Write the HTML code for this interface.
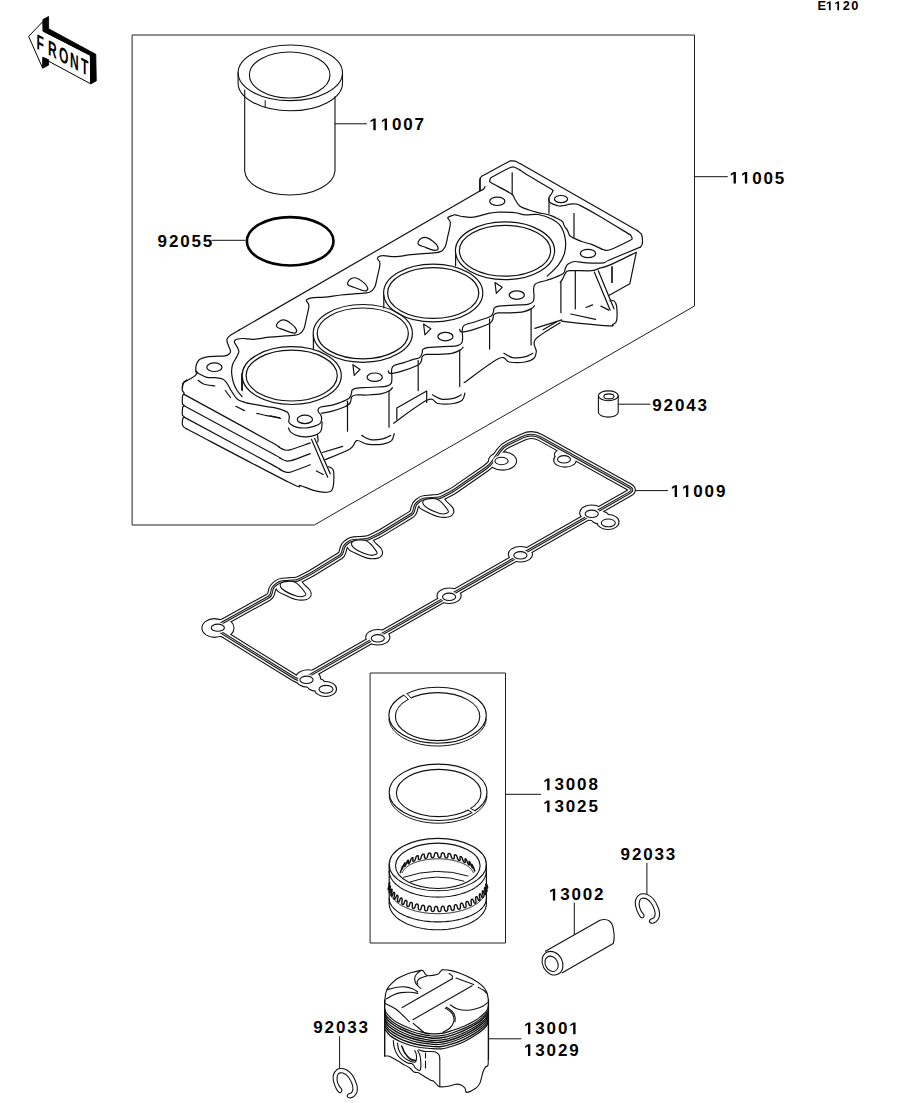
<!DOCTYPE html>
<html><head><meta charset="utf-8"><style>
html,body{margin:0;padding:0;background:#fff;}
svg{display:block;}
text{font-family:"Liberation Sans",sans-serif;font-weight:bold;fill:#000;}
</style></head><body>
<svg width="914" height="1103" viewBox="0 0 914 1103" stroke-linejoin="round" stroke-linecap="round">
<g id="front">
<path d="M43.1,19.4 L48.6,16.4 L48.6,28.7 L95.8,54.3 L96.3,80.9 L90.9,83.8 L90.4,55.3 L43.6,31.2 Z" stroke="#000" stroke-width="0.8" fill="#000" />
<path d="M43.1,57.3 L48.6,59.7 L48.6,65.1 L43.1,68.1 Z" stroke="#000" stroke-width="0.8" fill="#000" />
<path d="M28.9,36.1 L43.1,21.3 L43.1,31.2 L90.4,55.3 L90.6,83.8 L48.6,61.2 L43.1,57.6 L42.6,67.6 Z" stroke="#000" stroke-width="1" fill="none" />
<text transform="translate(36.6,48.6) skewY(28) scale(0.56,1)" font-size="21.5" style="font-family:'Liberation Sans';font-weight:bold">F</text>
<text transform="translate(47.9,54.6) skewY(28) scale(0.56,1)" font-size="21.5" style="font-family:'Liberation Sans';font-weight:bold">R</text>
<text transform="translate(59.0,60.5) skewY(28) scale(0.56,1)" font-size="21.5" style="font-family:'Liberation Sans';font-weight:bold">O</text>
<text transform="translate(70.0,66.4) skewY(28) scale(0.56,1)" font-size="21.5" style="font-family:'Liberation Sans';font-weight:bold">N</text>
<text transform="translate(80.9,72.2) skewY(28) scale(0.56,1)" font-size="21.5" style="font-family:'Liberation Sans';font-weight:bold">T</text>
</g>
<path d="M132.5,35 H694.5 V306 L314.3,525 H132.5 Z" stroke="#222" stroke-width="1" fill="none" />
<ellipse cx="290.3" cy="72.8" rx="52.2" ry="27.8" stroke="#111" stroke-width="1.1" fill="none"/>
<ellipse cx="289.7" cy="75.0" rx="40.3" ry="23.0" stroke="#111" stroke-width="1.1" fill="none"/>
<path d="M238.1,72.8 V83 A52.2,27.8 0 0 0 342.5,83 V72.8" stroke="#111" stroke-width="1.1" fill="none" />
<path d="M244.7,90 V171 A45.2,25.2 0 0 0 335,171 V96.5" stroke="#111" stroke-width="1.1" fill="none" />
<line x1="265.2" y1="100.6" x2="265.2" y2="107" stroke="#111" stroke-width="1"/>
<ellipse cx="290.2" cy="241.3" rx="43.3" ry="24.2" stroke="#000" stroke-width="2.6" fill="none"/>
<ellipse cx="608.3" cy="395.8" rx="9.9" ry="4.9" stroke="#111" stroke-width="1.1" fill="none"/>
<ellipse cx="608.9" cy="396.4" rx="5.0" ry="2.5" stroke="#111" stroke-width="1.1" fill="none"/>
<path d="M598.4,395.8 V412.2 A9.9,4.9 0 0 0 618.2,412.2 V395.8" stroke="#111" stroke-width="1.1" fill="none" />
<path d="M370.5,673 H505.5 V943 H370.5 Z" stroke="#222" stroke-width="1" fill="none" />
<ellipse cx="437.6" cy="715.3" rx="48.7" ry="28.0" stroke="#111" stroke-width="1.1" fill="none"/>
<ellipse cx="437.6" cy="716.6" rx="42.2" ry="24.0" stroke="#111" stroke-width="1.1" fill="none"/>
<path d="M486.24,719.40 L486.05,720.81 L485.74,722.22 L485.31,723.62 L484.75,725.00 L484.07,726.37 L483.28,727.71 L482.36,729.03 L481.33,730.32 L480.19,731.58 L478.94,732.80 L477.58,733.99 L476.12,735.13 L474.56,736.23 L472.91,737.28 L471.16,738.29 L469.33,739.24 L467.42,740.14 L465.43,740.98 L463.37,741.76 L461.24,742.48 L459.06,743.14 L456.81,743.73 L454.52,744.26 L452.19,744.71 L449.81,745.11 L447.41,745.43 L444.98,745.68 L442.53,745.86 L440.07,745.96 L437.60,746.00 L435.13,745.96 L432.67,745.86 L430.22,745.68 L427.79,745.43 L425.39,745.11 L423.01,744.71 L420.68,744.26 L418.39,743.73 L416.14,743.14 L413.96,742.48 L411.83,741.76 L409.77,740.98 L407.78,740.14 L405.87,739.24 L404.04,738.29 L402.29,737.28 L400.64,736.23 L399.08,735.13 L397.62,733.99 L396.26,732.80 L395.01,731.58 L393.87,730.32 L392.84,729.03 L391.92,727.71 L391.13,726.37 L390.45,725.00 L389.89,723.62 L389.46,722.22 L389.15,720.81 L388.96,719.40" stroke="#111" stroke-width="1.0" fill="none" />
<path d="M402.9,694.3 L406.2,692.6 L411.8,698.9 L409.1,700.2 Z" stroke="none" stroke-width="0" fill="#fff" />
<path d="M403.8,695.2 L408.3,699.3" stroke="#111" stroke-width="1.0" fill="none" />
<path d="M407.0,693.5 L411.0,697.9" stroke="#111" stroke-width="1.0" fill="none" />
<ellipse cx="438.1" cy="792.3" rx="48.9" ry="28.2" stroke="#111" stroke-width="1.1" fill="none"/>
<ellipse cx="438.7" cy="793.0" rx="42.3" ry="23.6" stroke="#111" stroke-width="1.1" fill="none"/>
<path d="M486.94,796.41 L486.75,797.83 L486.44,799.25 L486.00,800.66 L485.45,802.05 L484.77,803.43 L483.97,804.78 L483.05,806.11 L482.01,807.41 L480.87,808.67 L479.61,809.91 L478.25,811.10 L476.78,812.25 L475.22,813.36 L473.55,814.42 L471.80,815.43 L469.96,816.39 L468.04,817.29 L466.05,818.14 L463.98,818.93 L461.84,819.65 L459.64,820.32 L457.39,820.91 L455.09,821.44 L452.75,821.91 L450.36,822.30 L447.95,822.62 L445.51,822.87 L443.05,823.06 L440.58,823.16 L438.10,823.20 L435.62,823.16 L433.15,823.06 L430.69,822.87 L428.25,822.62 L425.84,822.30 L423.45,821.91 L421.11,821.44 L418.81,820.91 L416.56,820.32 L414.36,819.65 L412.22,818.93 L410.15,818.14 L408.16,817.29 L406.24,816.39 L404.40,815.43 L402.65,814.42 L400.98,813.36 L399.42,812.25 L397.95,811.10 L396.59,809.91 L395.33,808.67 L394.19,807.41 L393.15,806.11 L392.23,804.78 L391.43,803.43 L390.75,802.05 L390.20,800.66 L389.76,799.25 L389.45,797.83 L389.26,796.41" stroke="#111" stroke-width="1.0" fill="none" />
<path d="M475.9,811.6 L472.9,813.4 L467.3,809.1 L469.7,807.7 Z" stroke="none" stroke-width="0" fill="#fff" />
<path d="M475.0,810.8 L470.6,808.5" stroke="#111" stroke-width="1.0" fill="none" />
<path d="M472.1,812.6 L468.1,810.0" stroke="#111" stroke-width="1.0" fill="none" />
<ellipse cx="437.8" cy="864.6" rx="48.6" ry="26.2" stroke="#111" stroke-width="1.1" fill="none"/>
<ellipse cx="437.8" cy="865.8" rx="42.3" ry="22.7" stroke="#111" stroke-width="1.1" fill="none"/>
<path d="M486.40,870.90 L486.33,872.27 L486.13,873.64 L485.80,875.00 L485.34,876.35 L484.74,877.68 L484.02,879.00 L483.17,880.29 L482.20,881.56 L481.10,882.79 L479.89,884.00 L478.56,885.17 L477.12,886.30 L475.57,887.39 L473.92,888.43 L472.17,889.43 L470.32,890.37 L468.38,891.26 L466.37,892.10 L464.27,892.87 L462.10,893.59 L459.86,894.24 L457.57,894.83 L455.22,895.36 L452.82,895.82 L450.38,896.21 L447.90,896.53 L445.40,896.78 L442.88,896.96 L440.34,897.06 L437.80,897.10 L435.26,897.06 L432.72,896.96 L430.20,896.78 L427.70,896.53 L425.22,896.21 L422.78,895.82 L420.38,895.36 L418.03,894.83 L415.74,894.24 L413.50,893.59 L411.33,892.87 L409.23,892.10 L407.22,891.26 L405.28,890.37 L403.43,889.43 L401.68,888.43 L400.03,887.39 L398.48,886.30 L397.04,885.17 L395.71,884.00 L394.50,882.79 L393.40,881.56 L392.43,880.29 L391.58,879.00 L390.86,877.68 L390.26,876.35 L389.80,875.00 L389.47,873.64 L389.27,872.27 L389.20,870.90" stroke="#111" stroke-width="1.1" fill="none" />
<path d="M400.96,870.85 L400.46,872.24 L400.36,872.49 L400.31,872.59 L400.30,872.59 L400.31,872.53 L400.35,872.39 L400.42,872.19 L400.51,871.92 L400.63,871.57 L400.81,871.08 L401.10,870.23 L401.96,867.76 L402.18,867.17 L402.33,866.75 L402.45,866.45 L402.55,866.21 L402.62,866.05 L402.68,865.95 L402.71,865.92 L402.72,865.97 L402.70,866.14 L402.59,866.55 L401.87,868.82 L401.77,869.23 L401.76,869.40 L401.79,869.45 L401.84,869.42 L401.93,869.33 L402.04,869.17 L402.17,868.94 L402.33,868.64 L402.53,868.23 L402.78,867.64 L403.65,865.18 L403.99,864.34 L404.22,863.86 L404.40,863.51 L404.56,863.25 L404.70,863.06 L404.81,862.94 L404.91,862.88 L404.99,862.90 L405.04,863.01 L405.05,863.28 L404.70,864.68 L404.36,866.08 L404.38,866.34 L404.45,866.46 L404.55,866.48 L404.68,866.43 L404.82,866.31 L405.00,866.13 L405.19,865.88 L405.41,865.54 L405.67,865.07 L406.05,864.24 L406.90,861.79 L407.19,861.21 L407.43,860.82 L407.65,860.53 L407.84,860.32 L408.01,860.18 L408.17,860.10 L408.31,860.10 L408.43,860.17 L408.52,860.36 L408.54,860.79 L408.06,863.08 L408.09,863.52 L408.20,863.71 L408.34,863.79 L408.50,863.79 L408.69,863.72 L408.90,863.58 L409.12,863.38 L409.37,863.10 L409.65,862.73 L409.97,862.16 L410.78,859.73 L411.16,858.92 L411.45,858.47 L411.71,858.15 L411.95,857.92 L412.18,857.76 L412.38,857.66 L412.58,857.64 L412.76,857.69 L412.91,857.83 L413.04,858.12 L412.90,859.56 L412.77,860.99 L412.91,861.29 L413.08,861.43 L413.29,861.49 L413.51,861.47 L413.74,861.39 L414.00,861.24 L414.27,861.02 L414.55,860.72 L414.87,860.28 L415.27,859.49 L416.00,857.08 L416.33,856.53 L416.63,856.18 L416.91,855.93 L417.17,855.75 L417.42,855.65 L417.66,855.61 L417.88,855.64 L418.09,855.75 L418.29,855.98 L418.44,856.45 L418.25,858.78 L418.42,859.25 L418.63,859.49 L418.86,859.60 L419.11,859.64 L419.37,859.61 L419.65,859.52 L419.94,859.36 L420.24,859.12 L420.56,858.79 L420.90,858.26 L421.54,855.87 L421.92,855.10 L422.24,854.70 L422.54,854.42 L422.83,854.23 L423.11,854.11 L423.38,854.06 L423.64,854.08 L423.90,854.18 L424.14,854.36 L424.36,854.70 L424.45,856.18 L424.54,857.66 L424.79,858.00 L425.05,858.19 L425.32,858.29 L425.61,858.32 L425.90,858.28 L426.20,858.18 L426.51,858.01 L426.83,857.75 L427.16,857.36 L427.52,856.62 L428.04,854.25 L428.37,853.76 L428.68,853.45 L428.98,853.25 L429.28,853.12 L429.57,853.06 L429.85,853.07 L430.13,853.15 L430.41,853.31 L430.68,853.59 L430.94,854.11 L431.08,856.49 L431.35,857.01 L431.64,857.29 L431.93,857.46 L432.24,857.55 L432.54,857.57 L432.85,857.53 L433.16,857.41 L433.48,857.23 L433.79,856.94 L434.12,856.47 L434.50,854.13 L434.82,853.41 L435.12,853.05 L435.42,852.83 L435.72,852.69 L436.02,852.63 L436.32,852.63 L436.61,852.70 L436.91,852.84 L437.20,853.08 L437.50,853.47 L437.80,855.00 L438.11,856.53 L438.42,856.92 L438.73,857.17 L439.04,857.32 L439.35,857.40 L439.66,857.42 L439.97,857.37 L440.28,857.25 L440.58,857.04 L440.88,856.71 L441.16,856.02 L441.39,853.70 L441.67,853.26 L441.96,853.00 L442.24,852.85 L442.53,852.78 L442.83,852.77 L443.12,852.83 L443.42,852.96 L443.73,853.18 L444.04,853.51 L444.37,854.08 L444.82,856.51 L445.16,857.09 L445.48,857.42 L445.80,857.64 L446.11,857.79 L446.42,857.86 L446.71,857.87 L447.01,857.81 L447.29,857.68 L447.57,857.44 L447.82,857.02 L447.90,854.73 L448.11,854.07 L448.37,853.76 L448.63,853.59 L448.90,853.51 L449.17,853.49 L449.45,853.55 L449.74,853.67 L450.04,853.87 L450.35,854.16 L450.68,854.60 L451.15,856.18 L451.63,857.76 L451.97,858.21 L452.29,858.50 L452.59,858.71 L452.89,858.84 L453.17,858.90 L453.45,858.91 L453.71,858.84 L453.96,858.68 L454.18,858.40 L454.35,857.76 L454.26,855.49 L454.45,855.10 L454.67,854.90 L454.91,854.80 L455.15,854.77 L455.41,854.82 L455.67,854.93 L455.95,855.11 L456.24,855.37 L456.55,855.75 L456.91,856.37 L457.61,858.86 L457.97,859.48 L458.29,859.86 L458.58,860.13 L458.86,860.32 L459.13,860.44 L459.38,860.50 L459.62,860.49 L459.83,860.40 L460.03,860.22 L460.18,859.85 L459.93,857.60 L460.02,856.99 L460.19,856.73 L460.37,856.60 L460.57,856.56 L460.79,856.60 L461.02,856.70 L461.27,856.87 L461.52,857.11 L461.80,857.44 L462.12,857.93 L462.70,859.56 L463.29,861.18 L463.61,861.67 L463.89,862.01 L464.15,862.26 L464.39,862.44 L464.61,862.55 L464.82,862.59 L465.00,862.56 L465.16,862.45 L465.28,862.21 L465.31,861.62 L464.91,859.39 L464.99,859.04 L465.12,858.88 L465.27,858.82 L465.43,858.83 L465.62,858.92 L465.82,859.07 L466.03,859.29 L466.27,859.60 L466.54,860.02 L466.87,860.68 L467.73,863.20 L468.07,863.86 L468.34,864.28 L468.57,864.59 L468.78,864.82 L468.97,864.98 L469.14,865.07 L469.28,865.10 L469.40,865.05 L469.49,864.90 L469.52,864.56 L468.99,862.35 L468.94,861.77 L468.99,861.55 L469.08,861.46 L469.18,861.46 L469.31,861.52 L469.46,861.66 L469.63,861.86 L469.81,862.13 L470.03,862.50 L470.28,863.02 L470.90,864.68 L471.51,866.34 L471.77,866.86 L471.98,867.23 L472.16,867.51 L472.31,867.71 L472.44,867.85 L472.54,867.93 L472.62,867.93 L472.67,867.85 L472.68,867.64 L472.56,867.07 L471.91,864.87 L471.87,864.55 L471.88,864.41 L471.92,864.38 L471.99,864.42 L472.08,864.53 L472.19,864.71 L472.31,864.96 L472.47,865.28 L472.66,865.73 L472.92,866.41 L473.82,868.96 L474.09,869.64 L474.27,870.09 L474.41,870.42 L474.52,870.67 L474.61,870.85 L474.67,870.96 L474.71,871.01 L474.72,870.98 L474.69,870.85 L474.59,870.53 L473.85,868.34 L473.66,867.78 L473.59,867.58 L473.57,867.51 L473.57,867.52 L473.59,867.60 L473.63,867.75 L473.70,867.97 L473.79,868.26 L473.91,868.65 L474.07,869.18 L474.64,870.85" stroke="#111" stroke-width="1.4" fill="none" />
<path d="M402.24,872.72 L402.33,872.49 L402.42,872.26 L402.51,872.03 L402.62,871.80 L402.73,871.57 L402.85,871.35 L402.97,871.12 L403.11,870.90 L403.25,870.67 L403.39,870.45 L403.54,870.23 L403.70,870.00 L403.87,869.78 L404.04,869.56 L404.22,869.35 L404.41,869.13 L404.61,868.91 L404.81,868.70 L405.01,868.49 L405.23,868.27 L405.45,868.06 L405.67,867.86 L405.91,867.65 L406.14,867.44 L406.39,867.24 L406.64,867.04 L406.90,866.83 L407.16,866.63 L407.43,866.44 L407.71,866.24 L407.99,866.05 L408.28,865.85 L408.58,865.66 L408.88,865.48 L409.18,865.29 L409.49,865.11 L409.81,864.92 L410.13,864.74 L410.46,864.56 L410.80,864.39 L411.14,864.21 L411.48,864.04 L411.83,863.87 L412.18,863.71 L412.54,863.54 L412.91,863.38 L413.28,863.22 L413.66,863.06 L414.04,862.91 L414.42,862.75 L414.81,862.60 L415.20,862.46 L415.60,862.31 L416.00,862.17 L416.41,862.03 L416.82,861.89 L417.24,861.76 L417.66,861.62 L418.08,861.49 L418.51,861.37 L418.94,861.24 L419.38,861.12 L419.82,861.01 L420.26,860.89 L420.71,860.78 L421.15,860.67 L421.61,860.56 L422.06,860.46 L422.52,860.36 L422.99,860.26 L423.45,860.17 L423.92,860.08 L424.39,859.99 L424.86,859.90 L425.34,859.82 L425.82,859.74 L426.30,859.66 L426.78,859.59 L427.27,859.52 L427.76,859.46 L428.25,859.39 L428.74,859.33 L429.23,859.27 L429.73,859.22 L430.22,859.17 L430.72,859.12 L431.22,859.08 L431.72,859.04 L432.22,859.00 L432.73,858.96 L433.23,858.93 L433.74,858.91 L434.24,858.88 L434.75,858.86 L435.26,858.84 L435.77,858.83 L436.27,858.81 L436.78,858.81 L437.29,858.80 L437.80,858.80 L438.31,858.80 L438.82,858.81 L439.33,858.81 L439.83,858.83 L440.34,858.84 L440.85,858.86 L441.36,858.88 L441.86,858.91 L442.37,858.93 L442.87,858.96 L443.38,859.00 L443.88,859.04 L444.38,859.08 L444.88,859.12 L445.38,859.17 L445.87,859.22 L446.37,859.27 L446.86,859.33 L447.35,859.39 L447.84,859.46 L448.33,859.52 L448.82,859.59 L449.30,859.66 L449.78,859.74 L450.26,859.82 L450.74,859.90 L451.21,859.99 L451.68,860.08 L452.15,860.17 L452.61,860.26 L453.08,860.36 L453.54,860.46 L453.99,860.56 L454.45,860.67 L454.89,860.78 L455.34,860.89 L455.78,861.01 L456.22,861.12 L456.66,861.24 L457.09,861.37 L457.52,861.49 L457.94,861.62 L458.36,861.76 L458.78,861.89 L459.19,862.03 L459.60,862.17 L460.00,862.31 L460.40,862.46 L460.79,862.60 L461.18,862.75 L461.56,862.91 L461.94,863.06 L462.32,863.22 L462.69,863.38 L463.06,863.54 L463.42,863.71 L463.77,863.87 L464.12,864.04 L464.46,864.21 L464.80,864.39 L465.14,864.56 L465.47,864.74 L465.79,864.92 L466.11,865.11 L466.42,865.29 L466.72,865.48 L467.02,865.66 L467.32,865.85 L467.61,866.05 L467.89,866.24 L468.17,866.44 L468.44,866.63 L468.70,866.83 L468.96,867.04 L469.21,867.24 L469.46,867.44 L469.69,867.65 L469.93,867.86 L470.15,868.06 L470.37,868.27 L470.59,868.49 L470.79,868.70 L470.99,868.91 L471.19,869.13 L471.38,869.35 L471.56,869.56 L471.73,869.78 L471.90,870.00 L472.06,870.23 L472.21,870.45 L472.35,870.67 L472.49,870.90 L472.63,871.12 L472.75,871.35 L472.87,871.57 L472.98,871.80 L473.09,872.03 L473.18,872.26 L473.27,872.49 L473.36,872.72" stroke="#111" stroke-width="1.0" fill="none" />
<path d="M403.6,877.3 Q436.5,866 468,876" stroke="#111" stroke-width="1" fill="none" />
<path d="M410.2,881.9 Q436.5,872.5 464,881.2" stroke="#111" stroke-width="1" fill="none" />
<path d="M486.80,884.50 L487.39,886.36 L487.54,886.95 L487.63,887.37 L487.67,887.68 L487.68,887.90 L487.66,888.04 L487.61,888.09 L487.52,888.04 L487.38,887.86 L487.14,887.38 L486.19,884.87 L485.96,884.45 L485.82,884.29 L485.73,884.26 L485.66,884.32 L485.63,884.47 L485.62,884.70 L485.64,885.02 L485.70,885.45 L485.82,886.08 L486.63,888.69 L486.91,889.79 L487.00,890.35 L487.03,890.75 L487.03,891.04 L486.99,891.25 L486.92,891.37 L486.82,891.41 L486.68,891.35 L486.50,891.14 L486.18,890.56 L485.22,888.09 L484.97,887.73 L484.80,887.58 L484.67,887.56 L484.57,887.63 L484.49,887.78 L484.44,888.02 L484.42,888.35 L484.44,888.80 L484.53,889.46 L485.32,892.22 L485.49,893.14 L485.52,893.67 L485.51,894.05 L485.45,894.33 L485.37,894.52 L485.25,894.63 L485.11,894.65 L484.92,894.56 L484.69,894.32 L484.29,893.60 L483.36,891.24 L483.09,890.91 L482.89,890.78 L482.72,890.76 L482.58,890.84 L482.47,890.99 L482.38,891.24 L482.33,891.57 L482.30,892.03 L482.36,892.74 L483.09,895.55 L483.17,896.36 L483.15,896.86 L483.08,897.22 L482.98,897.47 L482.85,897.65 L482.69,897.73 L482.50,897.73 L482.28,897.62 L482.00,897.35 L481.49,896.34 L480.65,894.23 L480.36,893.93 L480.13,893.81 L479.93,893.80 L479.76,893.87 L479.61,894.03 L479.49,894.28 L479.39,894.62 L479.33,895.09 L479.35,895.85 L479.98,898.66 L479.99,899.39 L479.92,899.85 L479.80,900.19 L479.65,900.42 L479.48,900.57 L479.28,900.64 L479.05,900.62 L478.79,900.48 L478.47,900.16 L477.61,897.91 L477.13,897.02 L476.83,896.74 L476.57,896.62 L476.35,896.61 L476.14,896.69 L475.96,896.85 L475.80,897.09 L475.67,897.43 L475.57,897.92 L475.56,898.74 L476.07,901.51 L476.01,902.17 L475.89,902.60 L475.72,902.91 L475.54,903.12 L475.32,903.25 L475.09,903.29 L474.82,903.24 L474.53,903.07 L474.18,902.69 L473.31,900.25 L472.88,899.55 L472.57,899.28 L472.29,899.17 L472.04,899.15 L471.80,899.22 L471.59,899.38 L471.40,899.62 L471.23,899.96 L471.09,900.46 L471.06,901.38 L471.43,904.05 L471.31,904.66 L471.14,905.05 L470.93,905.33 L470.71,905.51 L470.46,905.61 L470.19,905.63 L469.90,905.55 L469.58,905.34 L469.21,904.91 L468.38,902.36 L467.98,901.76 L467.65,901.50 L467.36,901.39 L467.08,901.37 L466.83,901.44 L466.58,901.58 L466.36,901.82 L466.16,902.16 L465.99,902.67 L465.93,903.78 L466.15,906.25 L465.97,906.79 L465.75,907.15 L465.51,907.40 L465.26,907.56 L464.98,907.63 L464.69,907.61 L464.37,907.50 L464.04,907.26 L463.65,906.75 L462.89,904.16 L462.51,903.62 L462.18,903.37 L461.87,903.25 L461.58,903.22 L461.30,903.28 L461.03,903.42 L460.78,903.65 L460.55,903.99 L460.34,904.51 L460.42,906.83 L460.32,908.05 L460.10,908.55 L459.84,908.87 L459.57,909.09 L459.29,909.21 L458.99,909.25 L458.67,909.21 L458.35,909.06 L458.00,908.78 L457.61,908.18 L456.94,905.58 L456.58,905.08 L456.24,904.83 L455.93,904.70 L455.62,904.67 L455.33,904.72 L455.04,904.85 L454.77,905.08 L454.51,905.41 L454.27,905.95 L454.26,908.52 L454.06,909.44 L453.80,909.89 L453.51,910.17 L453.22,910.36 L452.91,910.45 L452.60,910.46 L452.27,910.38 L451.94,910.20 L451.59,909.87 L451.20,909.15 L450.65,906.59 L450.30,906.13 L449.97,905.87 L449.65,905.74 L449.33,905.69 L449.03,905.73 L448.73,905.86 L448.43,906.07 L448.15,906.41 L447.88,906.96 L447.75,909.62 L447.49,910.39 L447.19,910.78 L446.89,911.03 L446.57,911.18 L446.25,911.25 L445.93,911.22 L445.60,911.11 L445.26,910.90 L444.92,910.52 L444.55,909.61 L444.12,907.17 L443.79,906.72 L443.46,906.47 L443.14,906.32 L442.83,906.27 L442.51,906.30 L442.20,906.41 L441.90,906.62 L441.59,906.95 L441.29,907.54 L441.03,910.22 L440.72,910.87 L440.41,911.23 L440.08,911.44 L439.76,911.56 L439.43,911.58 L439.11,911.53 L438.78,911.38 L438.45,911.13 L438.12,910.70 L437.80,909.00 L437.48,907.30 L437.17,906.87 L436.85,906.61 L436.54,906.45 L436.23,906.39 L435.91,906.41 L435.60,906.51 L435.28,906.71 L434.95,907.04 L434.62,907.67 L434.24,910.33 L433.90,910.90 L433.57,911.20 L433.24,911.38 L432.91,911.46 L432.58,911.46 L432.26,911.37 L431.94,911.19 L431.63,910.90 L431.33,910.41 L431.13,907.93 L430.86,906.98 L430.57,906.55 L430.27,906.28 L429.96,906.12 L429.66,906.05 L429.34,906.05 L429.03,906.15 L428.70,906.34 L428.37,906.67 L428.01,907.37 L427.50,909.97 L427.15,910.45 L426.81,910.72 L426.47,910.86 L426.15,910.91 L425.83,910.88 L425.52,910.75 L425.22,910.54 L424.93,910.21 L424.67,909.66 L424.60,907.01 L424.37,906.20 L424.10,905.78 L423.82,905.51 L423.54,905.34 L423.24,905.25 L422.93,905.25 L422.62,905.33 L422.30,905.51 L421.95,905.85 L421.55,906.67 L420.95,909.13 L420.59,909.56 L420.25,909.78 L419.92,909.89 L419.61,909.91 L419.31,909.84 L419.02,909.69 L418.74,909.44 L418.48,909.06 L418.26,908.44 L418.34,905.72 L418.14,904.98 L417.90,904.57 L417.65,904.29 L417.38,904.11 L417.10,904.01 L416.80,904.00 L416.50,904.08 L416.18,904.26 L415.83,904.61 L415.36,905.69 L414.71,907.86 L414.35,908.22 L414.02,908.41 L413.71,908.49 L413.41,908.47 L413.13,908.37 L412.87,908.19 L412.62,907.91 L412.40,907.49 L412.23,906.79 L412.45,904.03 L412.29,903.35 L412.08,902.94 L411.85,902.66 L411.60,902.47 L411.34,902.36 L411.07,902.34 L410.78,902.41 L410.46,902.59 L410.11,902.95 L409.37,905.23 L408.90,906.16 L408.55,906.48 L408.24,906.63 L407.95,906.68 L407.68,906.63 L407.42,906.51 L407.19,906.29 L406.98,905.98 L406.80,905.52 L406.70,904.72 L407.04,901.97 L406.92,901.33 L406.74,900.92 L406.54,900.63 L406.33,900.44 L406.09,900.33 L405.84,900.30 L405.56,900.36 L405.26,900.54 L404.91,900.93 L404.06,903.38 L403.63,904.09 L403.31,904.36 L403.01,904.48 L402.75,904.50 L402.51,904.42 L402.29,904.27 L402.09,904.03 L401.92,903.68 L401.80,903.18 L401.78,902.25 L402.22,899.57 L402.13,898.96 L402.00,898.55 L401.83,898.26 L401.64,898.06 L401.43,897.95 L401.20,897.91 L400.95,897.98 L400.67,898.16 L400.32,898.58 L399.40,901.10 L399.01,901.67 L398.71,901.90 L398.44,901.99 L398.21,901.98 L398.01,901.89 L397.82,901.71 L397.67,901.44 L397.55,901.06 L397.47,900.52 L397.58,899.37 L398.07,896.86 L398.02,896.28 L397.92,895.87 L397.79,895.58 L397.64,895.38 L397.46,895.26 L397.26,895.23 L397.03,895.29 L396.77,895.48 L396.43,895.94 L395.46,898.48 L395.11,898.96 L394.84,899.16 L394.62,899.22 L394.42,899.19 L394.25,899.07 L394.12,898.86 L394.01,898.57 L393.93,898.17 L393.92,897.58 L394.46,895.20 L394.68,893.90 L394.67,893.33 L394.61,892.94 L394.51,892.65 L394.39,892.45 L394.25,892.33 L394.08,892.30 L393.88,892.36 L393.64,892.57 L393.30,893.09 L392.32,895.60 L392.01,896.01 L391.79,896.18 L391.60,896.22 L391.45,896.16 L391.33,896.02 L391.23,895.80 L391.17,895.48 L391.15,895.05 L391.19,894.42 L391.92,891.75 L392.10,890.73 L392.12,890.19 L392.10,889.80 L392.05,889.52 L391.97,889.32 L391.86,889.20 L391.73,889.17 L391.56,889.25 L391.35,889.47 L391.00,890.08 L390.04,892.53 L389.78,892.88 L389.60,893.02 L389.46,893.04 L389.35,892.97 L389.27,892.81 L389.23,892.57 L389.22,892.23 L389.25,891.77 L389.36,891.09 L390.19,888.31 L390.38,887.42 L390.44,886.90 L390.46,886.52 L390.45,886.24 L390.40,886.05 L390.34,885.94 L390.24,885.92 L390.11,886.00 L389.92,886.24 L389.55,887.02 L388.66,889.32 L388.45,889.63 L388.32,889.74 L388.23,889.74 L388.17,889.66 L388.14,889.48 L388.14,889.23 L388.18,888.87 L388.26,888.39 L388.44,887.66 L389.35,884.83 L389.55,884.03 L389.66,883.52 L389.71,883.16 L389.74,882.89 L389.74,882.70 L389.70,882.60 L389.65,882.59 L389.55,882.69 L389.40,882.96 L388.80,884.50" stroke="#111" stroke-width="1.4" fill="none" />
<path d="M486.18,889.93 L486.16,890.25 L486.12,890.56 L486.09,890.88 L486.04,891.19 L485.99,891.50 L485.92,891.82 L485.85,892.13 L485.77,892.44 L485.69,892.75 L485.59,893.06 L485.49,893.37 L485.38,893.68 L485.26,893.99 L485.14,894.30 L485.01,894.61 L484.86,894.92 L484.72,895.22 L484.56,895.52 L484.40,895.83 L484.22,896.13 L484.04,896.43 L483.86,896.73 L483.66,897.03 L483.46,897.33 L483.25,897.62 L483.03,897.92 L482.81,898.21 L482.57,898.50 L482.33,898.79 L482.09,899.08 L481.83,899.37 L481.57,899.65 L481.30,899.94 L481.03,900.22 L480.74,900.50 L480.45,900.78 L480.16,901.05 L479.85,901.33 L479.54,901.60 L479.22,901.87 L478.90,902.14 L478.57,902.41 L478.23,902.67 L477.88,902.93 L477.53,903.19 L477.17,903.45 L476.81,903.70 L476.44,903.96 L476.06,904.21 L475.68,904.45 L475.29,904.70 L474.89,904.94 L474.49,905.18 L474.08,905.42 L473.67,905.65 L473.25,905.88 L472.82,906.11 L472.39,906.34 L471.95,906.56 L471.51,906.78 L471.06,907.00 L470.60,907.21 L470.14,907.43 L469.68,907.63 L469.21,907.84 L468.73,908.04 L468.25,908.24 L467.77,908.44 L467.28,908.63 L466.78,908.82 L466.28,909.01 L465.78,909.19 L465.27,909.37 L464.75,909.55 L464.24,909.72 L463.71,909.89 L463.19,910.06 L462.65,910.22 L462.12,910.38 L461.58,910.54 L461.04,910.69 L460.49,910.84 L459.94,910.99 L459.38,911.13 L458.83,911.27 L458.26,911.40 L457.70,911.53 L457.13,911.66 L456.56,911.78 L455.99,911.90 L455.41,912.02 L454.83,912.13 L454.25,912.24 L453.66,912.35 L453.07,912.45 L452.48,912.55 L451.89,912.64 L451.29,912.73 L450.69,912.81 L450.09,912.90 L449.49,912.97 L448.89,913.05 L448.28,913.12 L447.67,913.18 L447.06,913.25 L446.45,913.31 L445.84,913.36 L445.23,913.41 L444.61,913.46 L444.00,913.50 L443.38,913.54 L442.76,913.57 L442.14,913.60 L441.53,913.63 L440.91,913.65 L440.28,913.67 L439.66,913.68 L439.04,913.69 L438.42,913.70 L437.80,913.70 L437.18,913.70 L436.56,913.69 L435.94,913.68 L435.32,913.67 L434.69,913.65 L434.07,913.63 L433.46,913.60 L432.84,913.57 L432.22,913.54 L431.60,913.50 L430.99,913.46 L430.37,913.41 L429.76,913.36 L429.15,913.31 L428.54,913.25 L427.93,913.18 L427.32,913.12 L426.71,913.05 L426.11,912.97 L425.51,912.90 L424.91,912.81 L424.31,912.73 L423.71,912.64 L423.12,912.55 L422.53,912.45 L421.94,912.35 L421.35,912.24 L420.77,912.13 L420.19,912.02 L419.61,911.90 L419.04,911.78 L418.47,911.66 L417.90,911.53 L417.34,911.40 L416.77,911.27 L416.22,911.13 L415.66,910.99 L415.11,910.84 L414.56,910.69 L414.02,910.54 L413.48,910.38 L412.95,910.22 L412.41,910.06 L411.89,909.89 L411.36,909.72 L410.85,909.55 L410.33,909.37 L409.82,909.19 L409.32,909.01 L408.82,908.82 L408.32,908.63 L407.83,908.44 L407.35,908.24 L406.87,908.04 L406.39,907.84 L405.92,907.63 L405.46,907.43 L405.00,907.21 L404.54,907.00 L404.09,906.78 L403.65,906.56 L403.21,906.34 L402.78,906.11 L402.35,905.88 L401.93,905.65 L401.52,905.42 L401.11,905.18 L400.71,904.94 L400.31,904.70 L399.92,904.45 L399.54,904.21 L399.16,903.96 L398.79,903.70 L398.43,903.45 L398.07,903.19 L397.72,902.93 L397.37,902.67 L397.03,902.41 L396.70,902.14 L396.38,901.87 L396.06,901.60 L395.75,901.33 L395.44,901.05 L395.15,900.78 L394.86,900.50 L394.57,900.22 L394.30,899.94 L394.03,899.65 L393.77,899.37 L393.51,899.08 L393.27,898.79 L393.03,898.50 L392.79,898.21 L392.57,897.92 L392.35,897.62 L392.14,897.33 L391.94,897.03 L391.74,896.73 L391.56,896.43 L391.38,896.13 L391.20,895.83 L391.04,895.52 L390.88,895.22 L390.74,894.92 L390.59,894.61 L390.46,894.30 L390.34,893.99 L390.22,893.68 L390.11,893.37 L390.01,893.06 L389.91,892.75 L389.83,892.44 L389.75,892.13 L389.68,891.82 L389.61,891.50 L389.56,891.19 L389.51,890.88 L389.48,890.56 L389.44,890.25 L389.42,889.93" stroke="#111" stroke-width="1.0" fill="none" />
<path d="M486.40,898.30 L486.33,899.54 L486.13,900.77 L485.80,901.99 L485.34,903.21 L484.74,904.41 L484.02,905.59 L483.17,906.76 L482.20,907.90 L481.10,909.01 L479.89,910.10 L478.56,911.15 L477.12,912.17 L475.57,913.15 L473.92,914.09 L472.17,914.99 L470.32,915.84 L468.38,916.64 L466.37,917.39 L464.27,918.09 L462.10,918.74 L459.86,919.33 L457.57,919.86 L455.22,920.33 L452.82,920.74 L450.38,921.10 L447.90,921.38 L445.40,921.61 L442.88,921.77 L440.34,921.87 L437.80,921.90 L435.26,921.87 L432.72,921.77 L430.20,921.61 L427.70,921.38 L425.22,921.10 L422.78,920.74 L420.38,920.33 L418.03,919.86 L415.74,919.33 L413.50,918.74 L411.33,918.09 L409.23,917.39 L407.22,916.64 L405.28,915.84 L403.43,914.99 L401.68,914.09 L400.03,913.15 L398.48,912.17 L397.04,911.15 L395.71,910.10 L394.50,909.01 L393.40,907.90 L392.43,906.76 L391.58,905.59 L390.86,904.41 L390.26,903.21 L389.80,901.99 L389.47,900.77 L389.27,899.54 L389.20,898.30" stroke="#111" stroke-width="1.1" fill="none" />
<path d="M486.40,903.50 L486.33,904.88 L486.13,906.25 L485.80,907.61 L485.34,908.97 L484.74,910.31 L484.02,911.63 L483.17,912.93 L482.20,914.20 L481.10,915.44 L479.89,916.65 L478.56,917.82 L477.12,918.96 L475.57,920.05 L473.92,921.10 L472.17,922.10 L470.32,923.04 L468.38,923.94 L466.37,924.78 L464.27,925.56 L462.10,926.28 L459.86,926.93 L457.57,927.53 L455.22,928.05 L452.82,928.51 L450.38,928.90 L447.90,929.23 L445.40,929.48 L442.88,929.66 L440.34,929.76 L437.80,929.80 L435.26,929.76 L432.72,929.66 L430.20,929.48 L427.70,929.23 L425.22,928.90 L422.78,928.51 L420.38,928.05 L418.03,927.53 L415.74,926.93 L413.50,926.28 L411.33,925.56 L409.23,924.78 L407.22,923.94 L405.28,923.04 L403.43,922.10 L401.68,921.10 L400.03,920.05 L398.48,918.96 L397.04,917.82 L395.71,916.65 L394.50,915.44 L393.40,914.20 L392.43,912.93 L391.58,911.63 L390.86,910.31 L390.26,908.97 L389.80,907.61 L389.47,906.25 L389.27,904.88 L389.20,903.50" stroke="#111" stroke-width="1.1" fill="none" />
<line x1="389.2" y1="864.6" x2="389.2" y2="903.5" stroke="#111" stroke-width="1.2"/>
<line x1="486.4" y1="864.6" x2="486.4" y2="903.5" stroke="#111" stroke-width="1.2"/>
<ellipse cx="552.5" cy="963.2" rx="9.9" ry="12.3" stroke="#111" stroke-width="1.1" fill="none" transform="rotate(-28 552.5 963.2)"/>
<ellipse cx="551.6" cy="963.8" rx="6.2" ry="8.0" stroke="#111" stroke-width="1.1" fill="none" transform="rotate(-28 551.6 963.8)"/>
<path d="M545.4,951.2 L600,920.2 Q612,917 613.5,930 Q615,938 613.2,943.5 L562.3,972.8" stroke="#111" stroke-width="1.1" fill="none" />
<path d="M642.4,917.9 C641.7,918.0 640.7,917.3 639.8,916.1 C638.9,914.9 637.8,912.8 637.1,910.9 C636.4,909.0 635.6,906.7 635.4,904.8 C635.2,902.9 635.2,901.1 635.8,899.5 C636.4,897.9 637.6,896.1 638.9,895.1 C640.1,894.1 641.7,893.8 643.3,893.8 C644.9,893.8 646.8,894.1 648.5,895.1 C650.2,896.1 652.3,897.6 653.8,899.5 C655.3,901.4 656.8,904.3 657.7,906.5 C658.7,908.7 659.3,910.7 659.5,912.6 C659.7,914.5 659.5,916.4 659.0,917.9 C658.5,919.4 657.4,920.5 656.4,921.4 C655.4,922.3 653.9,923.0 652.9,923.2 C651.9,923.4 650.9,923.1 650.3,922.7 C649.7,922.3 649.3,921.6 649.4,921.0 C649.5,920.4 650.0,919.7 650.7,919.2 C651.4,918.7 653.1,918.7 653.8,917.9 C654.5,917.1 655.0,915.9 655.1,914.4 C655.2,912.9 654.9,911.0 654.2,909.1 C653.5,907.2 652.3,904.7 651.1,903.0 C649.9,901.3 648.2,899.9 646.8,899.1 C645.3,898.3 643.6,898.0 642.4,898.2 C641.2,898.4 640.3,899.2 639.8,900.4 C639.3,901.6 639.1,903.9 639.3,905.6 C639.5,907.4 640.3,909.3 641.1,910.9 C641.9,912.5 643.9,914.1 644.1,915.3 C644.3,916.5 643.1,917.8 642.4,917.9 Z" stroke="#111" stroke-width="1.1" fill="none" />
<path d="M340.2,1092.6 C339.5,1092.7 338.5,1092.0 337.6,1090.8 C336.7,1089.6 335.6,1087.5 334.9,1085.6 C334.2,1083.7 333.4,1081.4 333.2,1079.5 C333.0,1077.6 333.0,1075.8 333.6,1074.2 C334.2,1072.6 335.5,1070.8 336.7,1069.8 C338.0,1068.9 339.5,1068.5 341.1,1068.5 C342.7,1068.5 344.6,1068.9 346.3,1069.8 C348.1,1070.8 350.1,1072.3 351.6,1074.2 C353.1,1076.1 354.6,1079.0 355.5,1081.2 C356.5,1083.4 357.1,1085.4 357.3,1087.3 C357.5,1089.2 357.3,1091.1 356.8,1092.6 C356.3,1094.1 355.2,1095.2 354.2,1096.1 C353.2,1097.0 351.7,1097.7 350.7,1097.9 C349.7,1098.1 348.7,1097.8 348.1,1097.4 C347.5,1097.0 347.1,1096.3 347.2,1095.7 C347.3,1095.1 347.8,1094.4 348.5,1093.9 C349.2,1093.4 350.9,1093.4 351.6,1092.6 C352.3,1091.8 352.8,1090.6 352.9,1089.1 C353.0,1087.6 352.7,1085.7 352.0,1083.8 C351.3,1081.9 350.1,1079.4 348.9,1077.7 C347.7,1076.0 346.1,1074.6 344.6,1073.8 C343.2,1073.0 341.4,1072.7 340.2,1072.9 C339.0,1073.1 338.1,1073.9 337.6,1075.1 C337.1,1076.3 336.9,1078.6 337.1,1080.3 C337.3,1082.1 338.1,1084.0 338.9,1085.6 C339.7,1087.2 341.7,1088.8 341.9,1090.0 C342.1,1091.2 340.9,1092.5 340.2,1092.6 Z" stroke="#111" stroke-width="1.1" fill="none" />
<line x1="335" y1="123.8" x2="366.5" y2="123.8" stroke="#111" stroke-width="1"/>
<line x1="212" y1="240.3" x2="245" y2="240.3" stroke="#111" stroke-width="1"/>
<line x1="694.5" y1="176.7" x2="727.4" y2="176.7" stroke="#111" stroke-width="1"/>
<line x1="618.5" y1="404.2" x2="650" y2="404.2" stroke="#111" stroke-width="1"/>
<line x1="636" y1="490.6" x2="667.5" y2="490.6" stroke="#111" stroke-width="1"/>
<line x1="505.5" y1="794.3" x2="540.7" y2="794.3" stroke="#111" stroke-width="1"/>
<line x1="574.3" y1="903" x2="574.3" y2="934.5" stroke="#111" stroke-width="1"/>
<line x1="646.9" y1="863.2" x2="646.9" y2="893.8" stroke="#111" stroke-width="1"/>
<line x1="339.6" y1="1036.7" x2="339.6" y2="1068.2" stroke="#111" stroke-width="1"/>
<line x1="489.5" y1="1038.8" x2="521" y2="1038.8" stroke="#111" stroke-width="1"/>
<path d="M478,0 L478,1170 L140,959 L140,1180 L493,1409 L759,1409 L759,0 Z" transform="translate(369.40,130.2) scale(0.00830,-0.00830)" fill="#000"/>
<path d="M478,0 L478,1170 L140,959 L140,1180 L493,1409 L759,1409 L759,0 Z" transform="translate(380.70,130.2) scale(0.00830,-0.00830)" fill="#000"/>
<text x="392.01" y="130.2" font-size="17">0</text>
<text x="403.31" y="130.2" font-size="17">0</text>
<text x="414.62" y="130.2" font-size="17">7</text>
<text x="157.60" y="246.9" font-size="17">9</text>
<text x="168.90" y="246.9" font-size="17">2</text>
<text x="180.21" y="246.9" font-size="17">0</text>
<text x="191.51" y="246.9" font-size="17">5</text>
<text x="202.82" y="246.9" font-size="17">5</text>
<path d="M478,0 L478,1170 L140,959 L140,1180 L493,1409 L759,1409 L759,0 Z" transform="translate(729.60,183.6) scale(0.00830,-0.00830)" fill="#000"/>
<path d="M478,0 L478,1170 L140,959 L140,1180 L493,1409 L759,1409 L759,0 Z" transform="translate(740.90,183.6) scale(0.00830,-0.00830)" fill="#000"/>
<text x="752.21" y="183.6" font-size="17">0</text>
<text x="763.51" y="183.6" font-size="17">0</text>
<text x="774.82" y="183.6" font-size="17">5</text>
<text x="652.30" y="410.6" font-size="17">9</text>
<text x="663.60" y="410.6" font-size="17">2</text>
<text x="674.91" y="410.6" font-size="17">0</text>
<text x="686.21" y="410.6" font-size="17">4</text>
<text x="697.52" y="410.6" font-size="17">3</text>
<path d="M478,0 L478,1170 L140,959 L140,1180 L493,1409 L759,1409 L759,0 Z" transform="translate(670.70,496.9) scale(0.00830,-0.00830)" fill="#000"/>
<path d="M478,0 L478,1170 L140,959 L140,1180 L493,1409 L759,1409 L759,0 Z" transform="translate(682.00,496.9) scale(0.00830,-0.00830)" fill="#000"/>
<text x="693.31" y="496.9" font-size="17">0</text>
<text x="704.61" y="496.9" font-size="17">0</text>
<text x="715.92" y="496.9" font-size="17">9</text>
<path d="M478,0 L478,1170 L140,959 L140,1180 L493,1409 L759,1409 L759,0 Z" transform="translate(543.20,790.3) scale(0.00830,-0.00830)" fill="#000"/>
<text x="554.50" y="790.3" font-size="17">3</text>
<text x="565.81" y="790.3" font-size="17">0</text>
<text x="577.11" y="790.3" font-size="17">0</text>
<text x="588.42" y="790.3" font-size="17">8</text>
<path d="M478,0 L478,1170 L140,959 L140,1180 L493,1409 L759,1409 L759,0 Z" transform="translate(543.20,812.2) scale(0.00830,-0.00830)" fill="#000"/>
<text x="554.50" y="812.2" font-size="17">3</text>
<text x="565.81" y="812.2" font-size="17">0</text>
<text x="577.11" y="812.2" font-size="17">2</text>
<text x="588.42" y="812.2" font-size="17">5</text>
<path d="M478,0 L478,1170 L140,959 L140,1180 L493,1409 L759,1409 L759,0 Z" transform="translate(548.90,900.4) scale(0.00830,-0.00830)" fill="#000"/>
<text x="560.20" y="900.4" font-size="17">3</text>
<text x="571.51" y="900.4" font-size="17">0</text>
<text x="582.81" y="900.4" font-size="17">0</text>
<text x="594.12" y="900.4" font-size="17">2</text>
<text x="620.60" y="859.7" font-size="17">9</text>
<text x="631.90" y="859.7" font-size="17">2</text>
<text x="643.21" y="859.7" font-size="17">0</text>
<text x="654.51" y="859.7" font-size="17">3</text>
<text x="665.82" y="859.7" font-size="17">3</text>
<text x="313.30" y="1033.2" font-size="17">9</text>
<text x="324.60" y="1033.2" font-size="17">2</text>
<text x="335.91" y="1033.2" font-size="17">0</text>
<text x="347.21" y="1033.2" font-size="17">3</text>
<text x="358.52" y="1033.2" font-size="17">3</text>
<path d="M478,0 L478,1170 L140,959 L140,1180 L493,1409 L759,1409 L759,0 Z" transform="translate(524.00,1034.3) scale(0.00830,-0.00830)" fill="#000"/>
<text x="535.30" y="1034.3" font-size="17">3</text>
<text x="546.61" y="1034.3" font-size="17">0</text>
<text x="557.91" y="1034.3" font-size="17">0</text>
<path d="M478,0 L478,1170 L140,959 L140,1180 L493,1409 L759,1409 L759,0 Z" transform="translate(569.22,1034.3) scale(0.00830,-0.00830)" fill="#000"/>
<path d="M478,0 L478,1170 L140,959 L140,1180 L493,1409 L759,1409 L759,0 Z" transform="translate(524.00,1056.0) scale(0.00830,-0.00830)" fill="#000"/>
<text x="535.30" y="1056.0" font-size="17">3</text>
<text x="546.61" y="1056.0" font-size="17">0</text>
<text x="557.91" y="1056.0" font-size="17">2</text>
<text x="569.22" y="1056.0" font-size="17">9</text>
<text x="817.50" y="10.2" font-size="12.8">E</text>
<path d="M478,0 L478,1170 L140,959 L140,1180 L493,1409 L759,1409 L759,0 Z" transform="translate(825.92,10.2) scale(0.00625,-0.00625)" fill="#000"/>
<path d="M478,0 L478,1170 L140,959 L140,1180 L493,1409 L759,1409 L759,0 Z" transform="translate(834.34,10.2) scale(0.00625,-0.00625)" fill="#000"/>
<text x="842.76" y="10.2" font-size="12.8">2</text>
<text x="851.17" y="10.2" font-size="12.8">0</text>
<g id="gasket" stroke-linejoin="round">
<path d="M218.75,624.79 L268.41,597.21 Q270.60,596.00 271.19,593.57 L272.11,589.73 Q272.70,587.30 274.63,585.72 L276.98,583.80 Q279.30,581.90 282.29,581.71 L293.81,580.99 Q296.80,580.80 299.48,579.45 L307.22,575.55 Q309.90,574.20 312.46,572.63 L339.77,555.91 Q341.90,554.60 342.49,552.17 L343.41,548.33 Q344.00,545.90 345.93,544.32 L348.28,542.40 Q350.60,540.50 353.59,540.31 L365.11,539.59 Q368.10,539.40 370.78,538.05 L378.52,534.15 Q381.20,532.80 383.76,531.23 L411.07,514.51 Q413.20,513.20 413.79,510.77 L414.71,506.93 Q415.30,504.50 417.23,502.92 L419.58,501.00 Q421.90,499.10 424.89,498.91 L436.41,498.19 Q439.40,498.00 442.08,496.65 L449.82,492.75 Q452.50,491.40 454.97,489.69 L485.89,468.25 Q490.00,465.40 492.84,461.29 L500.16,450.71 Q503.00,446.60 507.51,444.45 L522.97,437.10 Q532.00,432.80 540.74,437.66 L629.36,486.98 Q634.60,489.90 629.39,492.87 L304.81,678.13 Q299.60,681.10 294.50,677.94 L218.60,630.86 Q213.50,627.70 218.75,624.79 Z" fill="none" stroke="#111" stroke-width="7.90"/>
<path d="M278.0,581.5 C280.2,579.7 286.5,578.8 290.0,578.5 C293.5,578.2 296.7,578.4 299.0,579.5 C301.3,580.6 302.2,583.2 304.0,585.0 C305.8,586.8 308.4,588.8 309.5,590.5 C310.6,592.2 311.0,594.1 310.5,595.5 C310.0,596.9 308.9,598.4 306.5,599.0 C304.1,599.6 299.8,599.8 296.0,599.0 C292.2,598.2 287.2,595.6 284.0,594.0 C280.8,592.4 278.0,591.6 277.0,589.5 C276.0,587.4 275.8,583.3 278.0,581.5 Z" fill="#111" stroke="#111" stroke-width="2.2"/>
<path d="M349.3,540.1 C351.5,538.3 357.8,537.4 361.3,537.1 C364.8,536.8 368.0,537.0 370.3,538.1 C372.6,539.2 373.6,541.8 375.3,543.6 C377.1,545.4 379.7,547.4 380.8,549.1 C381.9,550.9 382.3,552.7 381.8,554.1 C381.3,555.5 380.2,557.0 377.8,557.6 C375.4,558.2 371.1,558.4 367.3,557.6 C363.6,556.8 358.5,554.2 355.3,552.6 C352.1,551.0 349.3,550.2 348.3,548.1 C347.3,546.0 347.1,541.9 349.3,540.1 Z" fill="#111" stroke="#111" stroke-width="2.2"/>
<path d="M420.6,498.7 C422.8,496.9 429.1,496.0 432.6,495.7 C436.1,495.4 439.3,495.6 441.6,496.7 C443.9,497.8 444.9,500.4 446.6,502.2 C448.4,504.0 451.0,505.9 452.1,507.7 C453.2,509.4 453.6,511.3 453.1,512.7 C452.6,514.1 451.5,515.6 449.1,516.2 C446.7,516.8 442.4,517.0 438.6,516.2 C434.9,515.4 429.8,512.8 426.6,511.2 C423.4,509.6 420.6,508.8 419.6,506.7 C418.6,504.6 418.4,500.5 420.6,498.7 Z" fill="#111" stroke="#111" stroke-width="2.2"/>
<ellipse cx="502.5" cy="461.0" rx="13.50" ry="8.60" transform="rotate(0 502.5 461.0)" fill="#111" stroke="#111" stroke-width="2.2"/>
<ellipse cx="565.0" cy="460.0" rx="10.80" ry="6.60" transform="rotate(0 565.0 460.0)" fill="#111" stroke="#111" stroke-width="2.2"/>
<ellipse cx="561.5" cy="454.5" rx="6.50" ry="4.50" transform="rotate(0 561.5 454.5)" fill="#111" stroke="#111" stroke-width="2.2"/>
<ellipse cx="377.8" cy="637.3" rx="11.50" ry="7.20" transform="rotate(0 377.8 637.3)" fill="#111" stroke="#111" stroke-width="2.2"/>
<ellipse cx="449.1" cy="595.8" rx="11.50" ry="7.20" transform="rotate(0 449.1 595.8)" fill="#111" stroke="#111" stroke-width="2.2"/>
<ellipse cx="520.4" cy="554.3" rx="11.50" ry="7.20" transform="rotate(0 520.4 554.3)" fill="#111" stroke="#111" stroke-width="2.2"/>
<ellipse cx="591.7" cy="512.8" rx="11.50" ry="7.20" transform="rotate(0 591.7 512.8)" fill="#111" stroke="#111" stroke-width="2.2"/>
<ellipse cx="308.0" cy="678.5" rx="12.00" ry="8.20" transform="rotate(0 308.0 678.5)" fill="#111" stroke="#111" stroke-width="2.2"/>
<ellipse cx="325.5" cy="689.0" rx="10.50" ry="6.90" transform="rotate(0 325.5 689.0)" fill="#111" stroke="#111" stroke-width="2.2"/>
<ellipse cx="316.0" cy="684.5" rx="9.00" ry="6.00" transform="rotate(0 316.0 684.5)" fill="#111" stroke="#111" stroke-width="2.2"/>
<ellipse cx="608.0" cy="522.0" rx="10.50" ry="6.90" transform="rotate(0 608.0 522.0)" fill="#111" stroke="#111" stroke-width="2.2"/>
<ellipse cx="600.0" cy="517.5" rx="9.00" ry="6.00" transform="rotate(0 600.0 517.5)" fill="#111" stroke="#111" stroke-width="2.2"/>
<ellipse cx="214.5" cy="628.0" rx="12.00" ry="8.80" transform="rotate(0 214.5 628.0)" fill="#111" stroke="#111" stroke-width="2.2"/>
<ellipse cx="224.0" cy="628.0" rx="9.50" ry="8.50" transform="rotate(0 224.0 628.0)" fill="#111" stroke="#111" stroke-width="2.2"/>
<path d="M218.75,624.79 L268.41,597.21 Q270.60,596.00 271.19,593.57 L272.11,589.73 Q272.70,587.30 274.63,585.72 L276.98,583.80 Q279.30,581.90 282.29,581.71 L293.81,580.99 Q296.80,580.80 299.48,579.45 L307.22,575.55 Q309.90,574.20 312.46,572.63 L339.77,555.91 Q341.90,554.60 342.49,552.17 L343.41,548.33 Q344.00,545.90 345.93,544.32 L348.28,542.40 Q350.60,540.50 353.59,540.31 L365.11,539.59 Q368.10,539.40 370.78,538.05 L378.52,534.15 Q381.20,532.80 383.76,531.23 L411.07,514.51 Q413.20,513.20 413.79,510.77 L414.71,506.93 Q415.30,504.50 417.23,502.92 L419.58,501.00 Q421.90,499.10 424.89,498.91 L436.41,498.19 Q439.40,498.00 442.08,496.65 L449.82,492.75 Q452.50,491.40 454.97,489.69 L485.89,468.25 Q490.00,465.40 492.84,461.29 L500.16,450.71 Q503.00,446.60 507.51,444.45 L522.97,437.10 Q532.00,432.80 540.74,437.66 L629.36,486.98 Q634.60,489.90 629.39,492.87 L304.81,678.13 Q299.60,681.10 294.50,677.94 L218.60,630.86 Q213.50,627.70 218.75,624.79 Z" fill="none" stroke="#fff" stroke-width="5.70"/>
<path d="M278.0,581.5 C280.2,579.7 286.5,578.8 290.0,578.5 C293.5,578.2 296.7,578.4 299.0,579.5 C301.3,580.6 302.2,583.2 304.0,585.0 C305.8,586.8 308.4,588.8 309.5,590.5 C310.6,592.2 311.0,594.1 310.5,595.5 C310.0,596.9 308.9,598.4 306.5,599.0 C304.1,599.6 299.8,599.8 296.0,599.0 C292.2,598.2 287.2,595.6 284.0,594.0 C280.8,592.4 278.0,591.6 277.0,589.5 C276.0,587.4 275.8,583.3 278.0,581.5 Z" fill="#fff"/>
<path d="M349.3,540.1 C351.5,538.3 357.8,537.4 361.3,537.1 C364.8,536.8 368.0,537.0 370.3,538.1 C372.6,539.2 373.6,541.8 375.3,543.6 C377.1,545.4 379.7,547.4 380.8,549.1 C381.9,550.9 382.3,552.7 381.8,554.1 C381.3,555.5 380.2,557.0 377.8,557.6 C375.4,558.2 371.1,558.4 367.3,557.6 C363.6,556.8 358.5,554.2 355.3,552.6 C352.1,551.0 349.3,550.2 348.3,548.1 C347.3,546.0 347.1,541.9 349.3,540.1 Z" fill="#fff"/>
<path d="M420.6,498.7 C422.8,496.9 429.1,496.0 432.6,495.7 C436.1,495.4 439.3,495.6 441.6,496.7 C443.9,497.8 444.9,500.4 446.6,502.2 C448.4,504.0 451.0,505.9 452.1,507.7 C453.2,509.4 453.6,511.3 453.1,512.7 C452.6,514.1 451.5,515.6 449.1,516.2 C446.7,516.8 442.4,517.0 438.6,516.2 C434.9,515.4 429.8,512.8 426.6,511.2 C423.4,509.6 420.6,508.8 419.6,506.7 C418.6,504.6 418.4,500.5 420.6,498.7 Z" fill="#fff"/>
<ellipse cx="502.5" cy="461.0" rx="13.50" ry="8.60" transform="rotate(0 502.5 461.0)" fill="#fff"/>
<ellipse cx="565.0" cy="460.0" rx="10.80" ry="6.60" transform="rotate(0 565.0 460.0)" fill="#fff"/>
<ellipse cx="561.5" cy="454.5" rx="6.50" ry="4.50" transform="rotate(0 561.5 454.5)" fill="#fff"/>
<ellipse cx="377.8" cy="637.3" rx="11.50" ry="7.20" transform="rotate(0 377.8 637.3)" fill="#fff"/>
<ellipse cx="449.1" cy="595.8" rx="11.50" ry="7.20" transform="rotate(0 449.1 595.8)" fill="#fff"/>
<ellipse cx="520.4" cy="554.3" rx="11.50" ry="7.20" transform="rotate(0 520.4 554.3)" fill="#fff"/>
<ellipse cx="591.7" cy="512.8" rx="11.50" ry="7.20" transform="rotate(0 591.7 512.8)" fill="#fff"/>
<ellipse cx="308.0" cy="678.5" rx="12.00" ry="8.20" transform="rotate(0 308.0 678.5)" fill="#fff"/>
<ellipse cx="325.5" cy="689.0" rx="10.50" ry="6.90" transform="rotate(0 325.5 689.0)" fill="#fff"/>
<ellipse cx="316.0" cy="684.5" rx="9.00" ry="6.00" transform="rotate(0 316.0 684.5)" fill="#fff"/>
<ellipse cx="608.0" cy="522.0" rx="10.50" ry="6.90" transform="rotate(0 608.0 522.0)" fill="#fff"/>
<ellipse cx="600.0" cy="517.5" rx="9.00" ry="6.00" transform="rotate(0 600.0 517.5)" fill="#fff"/>
<ellipse cx="214.5" cy="628.0" rx="12.00" ry="8.80" transform="rotate(0 214.5 628.0)" fill="#fff"/>
<ellipse cx="224.0" cy="628.0" rx="9.50" ry="8.50" transform="rotate(0 224.0 628.0)" fill="#fff"/>
<path d="M218.75,624.79 L268.41,597.21 Q270.60,596.00 271.19,593.57 L272.11,589.73 Q272.70,587.30 274.63,585.72 L276.98,583.80 Q279.30,581.90 282.29,581.71 L293.81,580.99 Q296.80,580.80 299.48,579.45 L307.22,575.55 Q309.90,574.20 312.46,572.63 L339.77,555.91 Q341.90,554.60 342.49,552.17 L343.41,548.33 Q344.00,545.90 345.93,544.32 L348.28,542.40 Q350.60,540.50 353.59,540.31 L365.11,539.59 Q368.10,539.40 370.78,538.05 L378.52,534.15 Q381.20,532.80 383.76,531.23 L411.07,514.51 Q413.20,513.20 413.79,510.77 L414.71,506.93 Q415.30,504.50 417.23,502.92 L419.58,501.00 Q421.90,499.10 424.89,498.91 L436.41,498.19 Q439.40,498.00 442.08,496.65 L449.82,492.75 Q452.50,491.40 454.97,489.69 L485.89,468.25 Q490.00,465.40 492.84,461.29 L500.16,450.71 Q503.00,446.60 507.51,444.45 L522.97,437.10 Q532.00,432.80 540.74,437.66 L629.36,486.98 Q634.60,489.90 629.39,492.87 L304.81,678.13 Q299.60,681.10 294.50,677.94 L218.60,630.86 Q213.50,627.70 218.75,624.79 Z" fill="none" stroke="#111" stroke-width="2.8"/>
<path d="M218.75,624.79 L268.41,597.21 Q270.60,596.00 271.19,593.57 L272.11,589.73 Q272.70,587.30 274.63,585.72 L276.98,583.80 Q279.30,581.90 282.29,581.71 L293.81,580.99 Q296.80,580.80 299.48,579.45 L307.22,575.55 Q309.90,574.20 312.46,572.63 L339.77,555.91 Q341.90,554.60 342.49,552.17 L343.41,548.33 Q344.00,545.90 345.93,544.32 L348.28,542.40 Q350.60,540.50 353.59,540.31 L365.11,539.59 Q368.10,539.40 370.78,538.05 L378.52,534.15 Q381.20,532.80 383.76,531.23 L411.07,514.51 Q413.20,513.20 413.79,510.77 L414.71,506.93 Q415.30,504.50 417.23,502.92 L419.58,501.00 Q421.90,499.10 424.89,498.91 L436.41,498.19 Q439.40,498.00 442.08,496.65 L449.82,492.75 Q452.50,491.40 454.97,489.69 L485.89,468.25 Q490.00,465.40 492.84,461.29 L500.16,450.71 Q503.00,446.60 507.51,444.45 L522.97,437.10 Q532.00,432.80 540.74,437.66 L629.36,486.98 Q634.60,489.90 629.39,492.87 L304.81,678.13 Q299.60,681.10 294.50,677.94 L218.60,630.86 Q213.50,627.70 218.75,624.79 Z" fill="none" stroke="#fff" stroke-width="0.7"/>
<ellipse cx="217.8" cy="627.7" rx="8.6" ry="5.4" fill="#fff"/>
<ellipse cx="217.8" cy="627.7" rx="6.6" ry="3.6" fill="none" stroke="#111" stroke-width="1.1"/>
<ellipse cx="306.5" cy="679.8" rx="8.6" ry="5.5" fill="#fff"/>
<ellipse cx="306.5" cy="679.8" rx="6.6" ry="3.7" fill="none" stroke="#111" stroke-width="1.1"/>
<ellipse cx="377.8" cy="638.3" rx="8.6" ry="5.5" fill="#fff"/>
<ellipse cx="377.8" cy="638.3" rx="6.6" ry="3.7" fill="none" stroke="#111" stroke-width="1.1"/>
<ellipse cx="449.1" cy="596.8" rx="8.6" ry="5.5" fill="#fff"/>
<ellipse cx="449.1" cy="596.8" rx="6.6" ry="3.7" fill="none" stroke="#111" stroke-width="1.1"/>
<ellipse cx="520.4" cy="555.3" rx="8.6" ry="5.5" fill="#fff"/>
<ellipse cx="520.4" cy="555.3" rx="6.6" ry="3.7" fill="none" stroke="#111" stroke-width="1.1"/>
<ellipse cx="591.7" cy="513.8" rx="8.6" ry="5.5" fill="#fff"/>
<ellipse cx="591.7" cy="513.8" rx="6.6" ry="3.7" fill="none" stroke="#111" stroke-width="1.1"/>
<ellipse cx="326.0" cy="689.3" rx="9.0" ry="5.7" fill="#fff"/>
<ellipse cx="326.0" cy="689.3" rx="7.0" ry="3.9" fill="none" stroke="#111" stroke-width="1.1"/>
<ellipse cx="608.3" cy="522.9" rx="9.0" ry="5.7" fill="#fff"/>
<ellipse cx="608.3" cy="522.9" rx="7.0" ry="3.9" fill="none" stroke="#111" stroke-width="1.1"/>
<ellipse cx="501.5" cy="461.0" rx="8.6" ry="5.5" fill="#fff"/>
<ellipse cx="501.5" cy="461.0" rx="6.6" ry="3.7" fill="none" stroke="#111" stroke-width="1.1"/>
<ellipse cx="564.0" cy="459.3" rx="8.5" ry="5.5" fill="#fff"/>
<ellipse cx="564.0" cy="459.3" rx="6.5" ry="3.7" fill="none" stroke="#111" stroke-width="1.1"/>
<path d="M281.4,582.9 C283.4,581.7 290.6,580.4 294.5,582.0 C298.4,583.6 303.4,590.2 305.0,592.5 C306.6,594.8 305.6,595.4 304.1,596.0 C302.7,596.6 299.9,597.2 296.3,596.0 C292.7,594.8 284.8,591.2 282.3,589.0 C279.8,586.8 279.4,584.1 281.4,582.9 Z" fill="#fff" stroke="#111" stroke-width="1.1"/>
<path d="M352.7,541.5 C354.7,540.3 361.9,539.0 365.8,540.6 C369.7,542.2 374.7,548.8 376.3,551.1 C377.9,553.4 376.9,554.0 375.4,554.6 C374.0,555.2 371.2,555.8 367.6,554.6 C364.0,553.4 356.1,549.8 353.6,547.6 C351.1,545.4 350.7,542.7 352.7,541.5 Z" fill="#fff" stroke="#111" stroke-width="1.1"/>
<path d="M424.0,500.1 C426.0,498.9 433.2,497.6 437.1,499.2 C441.0,500.8 446.0,507.4 447.6,509.7 C449.2,512.0 448.2,512.6 446.7,513.2 C445.3,513.8 442.5,514.4 438.9,513.2 C435.3,512.0 427.4,508.4 424.9,506.2 C422.4,504.0 422.0,501.3 424.0,500.1 Z" fill="#fff" stroke="#111" stroke-width="1.1"/>
</g>
<ellipse cx="291.7" cy="375.6" rx="49.6" ry="28.9" stroke="#111" stroke-width="1.2" fill="none"/>
<ellipse cx="291.7" cy="375.6" rx="45.6" ry="25.4" stroke="#111" stroke-width="1.2" fill="none"/>
<line x1="242.29999999999998" y1="377.6" x2="242.29999999999998" y2="390.6" stroke="#111" stroke-width="1.2"/>
<ellipse cx="362.8" cy="333.4" rx="49.6" ry="28.9" stroke="#111" stroke-width="1.2" fill="none"/>
<ellipse cx="362.8" cy="333.4" rx="45.6" ry="25.4" stroke="#111" stroke-width="1.2" fill="none"/>
<line x1="313.40000000000003" y1="335.4" x2="313.40000000000003" y2="348.4" stroke="#111" stroke-width="1.2"/>
<ellipse cx="433.2" cy="293.0" rx="49.6" ry="28.9" stroke="#111" stroke-width="1.2" fill="none"/>
<ellipse cx="433.2" cy="293.0" rx="45.6" ry="25.4" stroke="#111" stroke-width="1.2" fill="none"/>
<line x1="383.8" y1="295.0" x2="383.8" y2="308.0" stroke="#111" stroke-width="1.2"/>
<ellipse cx="505.0" cy="250.8" rx="49.6" ry="28.9" stroke="#111" stroke-width="1.2" fill="none"/>
<ellipse cx="505.0" cy="250.8" rx="45.6" ry="25.4" stroke="#111" stroke-width="1.2" fill="none"/>
<line x1="455.6" y1="252.8" x2="455.6" y2="265.8" stroke="#111" stroke-width="1.2"/>
<path d="M276.6,324.8 C277.0,323.7 278.5,321.7 279.9,320.9 C281.3,320.1 283.1,319.7 285.1,320.2 C287.1,320.7 289.8,322.6 291.7,324.1 C293.6,325.6 295.7,328.0 296.3,329.4 C296.9,330.8 296.4,332.2 295.6,332.7 C294.8,333.3 293.9,333.3 291.7,332.7 C289.5,332.2 284.9,330.3 282.5,329.4 C280.1,328.5 278.3,328.2 277.3,327.4 C276.3,326.6 276.2,325.9 276.6,324.8 Z" stroke="#111" stroke-width="1.2" fill="none" />
<path d="M347.7,282.6 C348.1,281.5 349.6,279.5 351.0,278.7 C352.4,277.9 354.2,277.5 356.2,278.0 C358.2,278.5 360.9,280.4 362.8,281.9 C364.7,283.4 366.8,285.8 367.4,287.2 C368.1,288.6 367.5,289.9 366.7,290.5 C365.9,291.1 365.0,291.1 362.8,290.5 C360.6,289.9 356.0,288.1 353.6,287.2 C351.2,286.3 349.4,286.0 348.4,285.2 C347.4,284.4 347.3,283.7 347.7,282.6 Z" stroke="#111" stroke-width="1.2" fill="none" />
<path d="M418.1,242.2 C418.5,241.1 420.0,239.1 421.4,238.3 C422.8,237.5 424.6,237.1 426.6,237.6 C428.6,238.1 431.3,240.0 433.2,241.5 C435.1,243.0 437.2,245.4 437.8,246.8 C438.4,248.2 437.9,249.6 437.1,250.1 C436.3,250.6 435.4,250.6 433.2,250.1 C431.0,249.6 426.4,247.7 424.0,246.8 C421.6,245.9 419.8,245.6 418.8,244.8 C417.8,244.0 417.7,243.3 418.1,242.2 Z" stroke="#111" stroke-width="1.2" fill="none" />
<ellipse cx="304.9" cy="419.4" rx="7.6" ry="4.2" stroke="#111" stroke-width="1.2" fill="none"/>
<ellipse cx="374.7" cy="377.2" rx="7.6" ry="4.2" stroke="#111" stroke-width="1.2" fill="none"/>
<ellipse cx="445.4" cy="336.6" rx="7.6" ry="4.2" stroke="#111" stroke-width="1.2" fill="none"/>
<ellipse cx="516.8" cy="295.1" rx="7.6" ry="4.2" stroke="#111" stroke-width="1.2" fill="none"/>
<ellipse cx="214.4" cy="367.2" rx="7.6" ry="4.3" stroke="#111" stroke-width="1.2" fill="none"/>
<ellipse cx="588.0" cy="253.5" rx="7.6" ry="4.2" stroke="#111" stroke-width="1.2" fill="none"/>
<ellipse cx="497.3" cy="201.3" rx="7.6" ry="4.2" stroke="#111" stroke-width="1.2" fill="none"/>
<ellipse cx="561.0" cy="199.1" rx="6.6" ry="3.6" stroke="#111" stroke-width="1.2" fill="none"/>
<path d="M239.3,330.0 L479.8,191.1" stroke="#111" stroke-width="1.2" fill="none" />
<path d="M239.3,330.0 C237.8,330.9 232.5,333.9 230.5,335.3 C228.5,336.7 227.9,337.5 227.3,338.5 C226.7,339.5 226.8,340.0 227.0,341.4 C227.2,342.8 228.2,345.0 228.8,346.6 C229.4,348.2 230.4,349.8 230.5,351.0 C230.6,352.2 230.5,352.8 229.6,353.6 C228.7,354.4 227.8,355.4 225.3,355.8 C222.8,356.2 218.0,356.1 214.8,356.3 C211.6,356.5 208.5,356.6 206.0,357.1 C203.5,357.6 201.3,358.4 199.9,359.3 C198.5,360.2 198.0,361.1 197.3,362.4 C196.6,363.6 196.1,365.4 195.9,366.8 C195.7,368.2 195.9,370.4 195.9,371.1" stroke="#111" stroke-width="1.2" fill="none" />
<path d="M195.9,371.1 C195.9,371.8 197.3,373.5 195.8,375.1 C194.3,376.7 188.9,379.4 186.8,380.8 C184.7,382.2 184.0,382.2 183.3,383.4 C182.6,384.6 182.6,387.2 182.4,388.0" stroke="#111" stroke-width="1.2" fill="none" />
<path d="M195.9,371.1 C196.4,371.6 197.2,372.8 199.0,373.8 C200.8,374.8 204.3,376.7 206.9,377.3 C209.5,377.9 212.2,377.4 214.8,377.7 C217.4,378.0 220.6,378.1 222.6,379.0 C224.6,379.9 225.7,381.6 227.0,383.4 C228.3,385.1 229.6,388.0 230.5,389.5 C231.4,391.0 231.1,390.7 232.3,392.3 C233.5,393.9 235.2,397.6 237.5,399.3 C239.8,401.1 241.6,401.6 246.3,402.8 C251.0,404.0 260.9,405.5 265.5,406.3 C270.1,407.1 271.4,407.1 274.0,407.6 C276.6,408.2 279.1,408.8 281.4,409.6 C283.6,410.4 286.2,411.1 287.5,412.3 C288.8,413.5 289.1,415.0 289.3,416.6 C289.5,418.2 288.5,420.6 288.8,421.9 C289.1,423.2 289.8,423.6 291.0,424.5 C292.2,425.4 294.0,426.5 296.3,427.1 C298.6,427.7 302.1,428.1 305.0,428.0 C307.9,427.9 311.3,427.0 313.8,426.3 C316.3,425.6 318.6,424.8 319.9,423.6 C321.2,422.4 321.5,420.8 321.6,419.3 C321.8,417.9 321.3,416.1 320.8,414.9 C320.3,413.7 319.1,413.2 318.6,412.3 C318.2,411.4 317.7,410.5 318.1,409.6 C318.5,408.7 318.6,407.7 320.8,407.0 C323.0,406.3 328.1,406.0 331.3,405.3 C334.5,404.6 337.0,403.8 340.0,402.6 C343.0,401.4 347.2,399.8 349.1,398.2 C351.0,396.6 351.0,394.6 351.5,393.2 C352.0,391.8 351.3,390.8 352.2,390.0 C353.1,389.2 354.3,388.6 356.7,388.2 C359.1,387.8 363.2,387.7 366.7,387.5 C370.2,387.3 374.4,387.2 377.7,387.0 C381.0,386.8 384.4,386.8 386.7,386.2 C388.9,385.6 390.3,384.9 391.2,383.4 C392.1,381.9 391.8,379.2 391.9,377.2 C391.9,375.2 391.4,372.9 391.5,371.2 C391.6,369.4 391.7,367.9 392.7,366.7 C393.7,365.5 395.7,364.9 397.7,364.2 C399.7,363.5 402.2,363.2 404.7,362.4 C407.2,361.6 410.2,360.4 412.7,359.6 C415.2,358.8 418.2,358.8 419.8,357.6 C421.4,356.4 421.7,354.0 422.2,352.6 C422.7,351.2 422.0,350.2 422.9,349.4 C423.8,348.6 425.0,348.0 427.4,347.6 C429.8,347.2 433.9,347.1 437.4,346.9 C440.9,346.7 445.1,346.6 448.4,346.4 C451.7,346.2 455.1,346.2 457.4,345.6 C459.6,345.0 461.0,344.3 461.9,342.8 C462.8,341.3 462.5,338.6 462.6,336.6 C462.6,334.6 462.1,332.4 462.2,330.6 C462.3,328.9 462.4,327.3 463.4,326.1 C464.4,324.9 466.4,324.3 468.4,323.6 C470.4,322.9 472.9,322.6 475.4,321.8 C477.9,321.0 480.8,319.9 483.4,319.0 C486.0,318.1 489.5,317.4 491.2,316.1 C492.9,314.8 493.1,312.5 493.6,311.1 C494.1,309.7 493.4,308.7 494.3,307.9 C495.2,307.1 496.4,306.5 498.8,306.1 C501.2,305.7 505.3,305.6 508.8,305.4 C512.3,305.2 516.5,305.1 519.8,304.9 C523.1,304.7 526.5,304.7 528.8,304.1 C531.0,303.5 532.4,302.8 533.3,301.3 C534.2,299.8 534.0,297.1 534.0,295.1 C534.0,293.1 533.5,290.9 533.6,289.1 C533.7,287.4 533.8,285.8 534.8,284.6 C535.8,283.4 537.8,282.8 539.8,282.1 C541.8,281.4 544.3,281.1 546.8,280.3 C549.3,279.5 552.0,278.7 554.8,277.5 C557.6,276.3 561.7,274.9 563.5,273.3 C565.3,271.7 564.6,269.6 565.4,268.1 C566.2,266.6 566.6,265.2 568.1,264.1 C569.6,263.0 571.5,261.7 574.6,261.5 C577.7,261.3 581.7,262.6 586.5,262.8 C591.3,263.0 599.8,263.2 603.5,262.8 C607.2,262.4 602.7,262.8 608.8,260.2 C614.9,257.6 635.0,249.3 640.3,247.1" stroke="#111" stroke-width="1.2" fill="none" />
<path d="M388.3,370.8 C388.6,371.2 387.9,373.4 390.3,373.4 C392.7,373.4 398.2,372.1 402.7,370.8 C407.2,369.5 414.1,367.0 417.2,365.5 C420.3,364.0 420.2,363.1 421.1,361.6 C422.0,360.1 421.5,357.5 422.4,356.3 C423.3,355.1 423.8,354.7 426.4,354.4 C429.0,354.1 433.8,354.6 438.2,354.4 C442.6,354.2 448.9,353.9 452.6,353.1 C456.3,352.3 458.8,350.8 460.5,349.8 C462.2,348.8 462.7,347.6 463.1,347.1" stroke="#111" stroke-width="1.2" fill="none" />
<path d="M459.7,329.3 C460.0,329.7 459.3,331.9 461.7,331.9 C464.1,331.9 469.6,330.6 474.1,329.3 C478.6,328.0 485.5,325.5 488.6,324.0 C491.7,322.5 491.6,321.6 492.5,320.1 C493.4,318.6 492.9,316.0 493.8,314.8 C494.7,313.6 495.2,313.2 497.8,312.9 C500.4,312.6 505.2,313.1 509.6,312.9 C514.0,312.7 520.3,312.4 524.0,311.6 C527.7,310.8 530.1,309.3 531.9,308.3 C533.6,307.3 534.1,306.1 534.5,305.6" stroke="#111" stroke-width="1.2" fill="none" />
<path d="M346.5,406.1 C347.1,405.4 349.5,403.7 350.4,402.2 C351.3,400.7 350.8,398.1 351.7,396.9 C352.6,395.7 353.1,395.3 355.7,395.0 C358.3,394.7 363.1,395.2 367.5,395.0 C371.9,394.8 378.2,394.5 381.9,393.7 C385.6,392.9 388.1,391.4 389.8,390.4 C391.6,389.4 392.0,388.1 392.4,387.7" stroke="#111" stroke-width="1.2" fill="none" />
<path d="M288.4,428.0 C288.8,428.7 289.4,431.1 291.0,432.4 C292.6,433.7 295.4,435.2 298.0,435.9 C300.6,436.6 304.0,436.9 306.8,436.8 C309.6,436.7 312.4,436.1 314.6,435.4 C316.8,434.7 318.7,433.5 319.9,432.4 C321.1,431.3 321.2,430.6 321.6,428.9 C322.0,427.1 322.0,423.1 322.1,421.9" stroke="#111" stroke-width="1.2" fill="none" />
<path d="M321.6,413.1 C323.2,412.8 327.5,412.4 331.3,411.4 C335.1,410.4 341.3,408.3 344.4,407.0 C347.5,405.7 349.1,404.1 350.0,403.5" stroke="#111" stroke-width="1.2" fill="none" />
<path d="M560.2,282.5 C560.6,281.9 561.9,280.1 562.8,278.6 C563.7,277.1 564.3,274.6 565.4,273.3 C566.5,272.0 565.0,271.1 569.4,270.7 C573.8,270.3 586.7,271.1 591.7,270.7 C596.7,270.3 596.8,269.0 599.6,268.1 C602.5,267.2 602.7,268.0 608.8,265.4 C614.9,262.8 631.7,254.5 636.3,252.3" stroke="#111" stroke-width="1.2" fill="none" />
<path d="M352.9,364.7 L360.1,369.4 L354.2,375.4 Z" stroke="#111" stroke-width="1.2" fill="none" />
<path d="M423.6,324.1 L430.8,328.8 L424.9,334.8 Z" stroke="#111" stroke-width="1.2" fill="none" />
<path d="M495.0,282.6 L502.2,287.3 L496.3,293.3 Z" stroke="#111" stroke-width="1.2" fill="none" />
<line x1="347.5" y1="401.2" x2="347.5" y2="431.2" stroke="#111" stroke-width="1.2"/>
<line x1="389.0" y1="391.2" x2="389.0" y2="427.2" stroke="#111" stroke-width="1.2"/>
<path d="M361.7,435.4 C363.2,436.1 367.1,439.1 370.6,439.7 C374.1,440.3 379.4,439.6 382.8,438.9 C386.2,438.2 389.4,436.0 390.7,435.4" stroke="#111" stroke-width="1.2" fill="none" />
<line x1="418.2" y1="360.6" x2="418.2" y2="390.6" stroke="#111" stroke-width="1.2"/>
<line x1="459.7" y1="350.6" x2="459.7" y2="386.6" stroke="#111" stroke-width="1.2"/>
<path d="M432.4,394.8 C433.9,395.5 437.8,398.5 441.3,399.1 C444.8,399.7 450.1,399.0 453.5,398.3 C456.9,397.6 460.1,395.4 461.4,394.8" stroke="#111" stroke-width="1.2" fill="none" />
<line x1="489.59999999999997" y1="319.1" x2="489.59999999999997" y2="349.1" stroke="#111" stroke-width="1.2"/>
<line x1="531.0999999999999" y1="309.1" x2="531.0999999999999" y2="345.1" stroke="#111" stroke-width="1.2"/>
<path d="M503.8,353.3 C505.3,354.0 509.2,357.0 512.7,357.6 C516.2,358.2 521.5,357.5 524.9,356.8 C528.2,356.1 531.5,353.9 532.8,353.3" stroke="#111" stroke-width="1.2" fill="none" />
<path d="M324.3,460.0 C328.6,458.2 344.6,452.2 350.0,449.0 C355.4,445.8 353.9,441.4 356.7,440.6 C359.5,439.8 362.7,443.5 367.1,444.1 C371.4,444.7 378.7,444.7 382.8,444.1 C386.9,443.5 389.7,442.3 391.6,440.6 C393.5,438.8 393.8,434.8 394.2,433.6" stroke="#111" stroke-width="1.2" fill="none" />
<path d="M393.5,423.2 C399.1,419.3 420.0,403.3 427.4,400.0 C434.8,396.7 433.4,402.9 437.8,403.5 C442.1,404.1 449.4,404.1 453.5,403.5 C457.6,402.9 460.4,401.8 462.3,400.0 C464.2,398.2 464.5,394.2 464.9,393.0" stroke="#111" stroke-width="1.2" fill="none" />
<path d="M464.2,382.6 C470.0,378.6 491.3,361.9 498.8,358.5 C506.3,355.1 504.8,361.4 509.2,362.0 C513.5,362.6 520.8,362.6 524.9,362.0 C529.0,361.4 531.8,360.2 533.7,358.5 C535.6,356.8 536.0,354.7 536.3,351.5 C536.6,348.3 531.4,344.1 535.4,339.3 C539.4,334.5 555.9,325.5 560.0,322.7" stroke="#111" stroke-width="1.2" fill="none" />
<line x1="560.9" y1="282.5" x2="560.9" y2="312.7" stroke="#111" stroke-width="1.2"/>
<line x1="575.3" y1="270.7" x2="575.3" y2="308.8" stroke="#111" stroke-width="1.2"/>
<line x1="612" y1="266.8" x2="612" y2="282.5" stroke="#111" stroke-width="1.2"/>
<path d="M396.8,419.5 L396.8,408.1 L426.7,391.0 L426.7,402.4" stroke="#111" stroke-width="1.2" fill="none" />
<path d="M534.8,328.4 L561.8,319.9" stroke="#111" stroke-width="1.2" fill="none" />
<path d="M242.0,396.5 C241.1,395.4 238.2,392.3 236.8,390.0 C235.4,387.7 234.2,385.1 233.4,382.5 C232.6,379.9 232.1,376.9 231.8,374.6 C231.5,372.3 231.6,370.4 231.8,368.5 C232.0,366.6 232.3,365.2 233.1,363.3 C233.9,361.4 235.6,359.0 236.6,357.1 C237.6,355.2 238.7,353.5 238.8,351.9 C239.0,350.3 238.2,349.1 237.5,347.5 C236.8,345.9 234.8,343.6 234.5,342.3 C234.2,341.0 234.5,340.1 236.0,339.5 C237.5,338.9 240.3,338.5 243.3,338.5 C246.3,338.5 249.4,339.5 253.8,339.3 C258.2,339.1 264.2,337.8 269.5,337.2 C274.8,336.6 280.5,336.3 285.3,335.9 C290.1,335.4 295.3,335.6 298.4,334.5 C301.5,333.4 302.4,331.9 303.7,329.3 C305.0,326.7 305.4,322.8 306.3,318.8 C307.2,314.9 308.9,308.7 308.9,305.6 C308.9,302.5 305.9,301.7 306.3,300.4 C306.8,299.1 308.5,298.4 311.6,297.8 C314.7,297.2 320.0,297.6 324.8,297.1 C329.6,296.6 335.3,295.6 340.6,295.0 C345.9,294.4 351.6,294.1 356.4,293.7 C361.2,293.2 366.4,293.4 369.5,292.3 C372.6,291.2 373.5,289.7 374.8,287.1 C376.1,284.5 376.5,280.5 377.4,276.6 C378.3,272.6 380.0,266.5 380.0,263.4 C380.0,260.3 377.0,259.5 377.4,258.2 C377.9,256.9 379.7,255.8 382.7,255.6 C385.7,255.3 390.5,256.9 395.2,256.7 C399.9,256.5 405.7,255.2 411.0,254.6 C416.3,254.0 422.0,253.8 426.8,253.3 C431.6,252.9 436.8,253.0 439.9,251.9 C443.0,250.8 443.9,249.3 445.2,246.7 C446.5,244.1 446.9,240.1 447.8,236.2 C448.7,232.2 450.4,226.1 450.4,223.0 C450.4,219.9 447.4,219.1 447.8,217.8 C448.2,216.5 451.8,215.7 453.1,215.2 C454.3,214.7 453.8,214.6 455.3,214.8 C456.8,215.0 459.7,216.1 462.3,216.5 C464.9,216.9 468.4,217.5 471.0,217.4 C473.6,217.3 475.1,216.9 478.0,216.2 C480.9,215.5 485.0,214.1 488.5,213.4 C492.0,212.7 494.6,212.2 499.0,212.1 C503.4,212.0 510.4,212.2 514.8,212.7 C519.2,213.1 521.4,214.5 525.3,214.8 C529.2,215.1 533.7,213.8 538.1,214.5 C542.5,215.2 547.9,217.0 551.7,219.0 C555.5,221.0 558.5,222.8 560.8,226.3 C563.1,229.8 564.8,235.4 565.4,239.9 C566.0,244.4 565.6,249.3 564.4,253.5 C563.2,257.7 561.0,261.5 558.1,265.3 C555.2,269.1 549.0,274.4 547.2,276.2" stroke="#111" stroke-width="1.2" fill="none" />
<path d="M479.8,191.1 C479.8,189.2 479.5,182.4 479.8,180.0 C480.1,177.6 480.5,177.5 481.5,176.5 C482.5,175.5 481.6,176.4 486.0,174.0 C490.4,171.6 503.8,164.2 508.0,162.0 C512.2,159.8 510.1,161.0 511.3,160.9 C512.5,160.8 513.5,160.8 515.0,161.2 C516.5,161.6 519.2,163.2 520.0,163.6" stroke="#111" stroke-width="1.2" fill="none" />
<path d="M520.0,163.6 L637.2,230.5" stroke="#111" stroke-width="1.2" fill="none" />
<path d="M637.2,230.5 C637.9,231.1 640.4,232.7 641.2,233.9 C642.1,235.2 642.1,236.3 642.3,238.0 C642.5,239.7 642.6,242.5 642.3,244.0 C642.0,245.5 640.6,246.6 640.3,247.1" stroke="#111" stroke-width="1.2" fill="none" />
<path d="M480.2,190.5 C480.8,190.3 482.7,189.9 483.5,189.2 C484.3,188.5 484.8,186.9 485.0,186.5" stroke="#111" stroke-width="1.2" fill="none" />
<path d="M489.7,181.5 C489.8,181.0 489.8,179.4 490.3,178.6 C490.9,177.8 489.6,178.3 493.0,176.5 C496.4,174.7 506.8,169.0 510.4,167.5 C514.0,166.0 513.2,167.1 514.8,167.5 C516.4,167.9 519.1,169.6 520.0,170.0" stroke="#111" stroke-width="1.2" fill="none" />
<path d="M520.0,170.0 C521.7,171.1 524.9,173.4 530.0,176.5 C535.1,179.6 546.9,186.3 550.7,188.8 C554.5,191.3 552.6,190.5 552.6,191.5 C552.6,192.5 551.3,193.8 550.7,194.9 C550.1,196.0 549.0,196.8 548.8,198.0 C548.6,199.2 548.8,200.8 549.5,201.8 C550.2,202.8 551.4,203.4 553.0,204.1 C554.6,204.8 557.1,205.8 559.1,206.0 C561.1,206.2 563.4,205.6 565.2,205.3 C567.0,205.0 568.0,204.3 569.8,204.1 C571.6,203.9 574.2,203.8 576.0,204.0 C577.8,204.2 576.5,203.5 580.5,205.6 C584.5,207.7 591.6,211.5 600.0,216.4 C608.4,221.3 625.5,232.0 630.6,235.1" stroke="#111" stroke-width="1.2" fill="none" />
<line x1="549" y1="198" x2="549" y2="213.3" stroke="#111" stroke-width="1.2"/>
<path d="M630.6,235.1 C630.8,235.6 632.1,237.1 632.0,238.0 C631.9,238.9 633.4,238.6 629.8,240.5 C626.1,242.4 614.5,248.2 610.1,249.7 C605.7,251.2 606.6,250.6 603.5,249.7 C600.4,248.8 595.2,245.7 591.7,244.4 C588.2,243.1 585.6,242.9 582.5,241.8 C579.4,240.7 575.5,239.0 573.3,237.9 C571.1,236.8 570.0,235.7 569.4,235.3" stroke="#111" stroke-width="1.2" fill="none" />
<path d="M489.7,181.5 C490.1,181.8 488.4,181.2 492.0,183.3 C495.6,185.4 507.5,191.2 511.3,193.8 C515.1,196.4 513.3,196.9 514.8,199.0 C516.2,201.1 517.6,204.5 520.0,206.3 C522.4,208.1 526.1,208.9 529.1,210.0 C532.1,211.1 535.4,212.0 538.1,212.7 C540.8,213.4 543.1,213.5 545.4,214.0 C547.7,214.5 549.6,215.1 551.7,215.9 C553.8,216.7 556.3,218.0 558.1,219.0 C559.9,220.0 561.6,220.5 562.6,221.7 C563.6,222.9 563.6,224.9 564.4,226.3 C565.2,227.7 566.4,228.4 567.2,229.9 C568.0,231.4 569.0,234.4 569.4,235.3" stroke="#111" stroke-width="1.2" fill="none" />
<line x1="512.2" y1="172.8" x2="512.2" y2="194.6" stroke="#111" stroke-width="1.2"/>
<line x1="574" y1="213.6" x2="574" y2="237.2" stroke="#111" stroke-width="1.2"/>
<line x1="480.2" y1="178" x2="480.2" y2="191" stroke="#111" stroke-width="1.2"/>
<path d="M636.3,252.3 L629.8,283.8 L608.8,295.6" stroke="#111" stroke-width="1.2" fill="none" />
<line x1="612" y1="266.8" x2="612" y2="282.5" stroke="#111" stroke-width="1.2"/>
<path d="M594.3,272.0 L610.1,310.1" stroke="#111" stroke-width="1.2" fill="none" />
<path d="M598.3,270.7 L614.0,308.8" stroke="#111" stroke-width="1.2" fill="none" />
<path d="M610.1,300.9 C610.8,300.9 612.9,300.0 614.0,300.9 C615.1,301.8 616.2,302.8 616.6,306.1 C617.0,309.4 617.2,317.5 616.6,320.6 C616.0,323.7 614.0,323.6 612.7,324.5 C611.4,325.4 616.4,326.2 608.8,325.8 C601.1,325.4 574.7,322.8 566.8,321.9 C558.9,321.0 562.4,320.8 561.5,320.6" stroke="#111" stroke-width="1.2" fill="none" />
<path d="M570.7,314.0 L595.6,319.3" stroke="#111" stroke-width="1.2" fill="none" />
<path d="M586.0,307.5 L592.6,304.9" stroke="#111" stroke-width="1.2" fill="none" />
<path d="M600.9,306.1 L608.8,310.1" stroke="#111" stroke-width="1.2" fill="none" />
<path d="M556.3,321.9 L543.1,329.8" stroke="#111" stroke-width="1.2" fill="none" />
<path d="M186.8,380.0 C186.2,380.4 184.0,381.6 183.3,382.6 C182.6,383.6 182.6,384.8 182.4,386.1 C182.2,387.4 182.1,389.3 182.4,390.5 C182.7,391.7 184.0,392.3 184.1,393.1 C184.2,393.9 183.1,394.6 182.8,395.3 C182.5,396.0 182.5,396.1 182.4,397.5 C182.3,398.9 182.1,402.3 182.4,403.6 C182.7,404.9 184.0,404.8 184.1,405.4 C184.2,406.0 183.1,406.4 182.8,407.1 C182.5,407.8 182.5,408.5 182.4,409.8 C182.3,411.1 182.1,413.8 182.4,415.0 C182.7,416.2 184.0,416.2 184.1,416.8 C184.2,417.4 183.1,417.8 182.8,418.5 C182.5,419.2 182.5,420.1 182.4,421.1 C182.3,422.1 182.1,423.6 182.4,424.6 C182.7,425.6 183.4,426.6 184.1,427.3 C184.8,428.0 186.4,428.7 186.8,429.0" stroke="#111" stroke-width="1.2" fill="none" />
<path d="M184.1,394.4 C198.4,402.2 254.2,432.7 270.0,441.5 C285.8,450.3 276.5,445.6 278.8,447.0 C281.1,448.4 282.1,449.1 284.0,449.6 C285.9,450.1 285.7,450.9 290.1,449.8 C294.5,448.7 306.9,444.0 310.3,442.9" stroke="#111" stroke-width="1.2" fill="none" />
<path d="M184.1,405.8 C198.8,413.7 256.0,444.6 272.0,453.3 C288.0,462.1 277.8,457.1 280.0,458.3 C282.2,459.5 283.2,460.1 285.0,460.5 C286.8,460.9 286.8,461.8 291.0,460.7 C295.2,459.6 307.1,454.8 310.3,453.6" stroke="#111" stroke-width="1.2" fill="none" />
<path d="M184.1,417.1 C198.8,425.0 256.0,455.9 272.0,464.6 C288.0,473.4 277.8,468.4 280.0,469.6 C282.2,470.8 283.2,471.4 285.0,471.8 C286.8,472.2 286.8,473.2 291.0,472.0 C295.2,470.8 307.1,466.0 310.3,464.8" stroke="#111" stroke-width="1.2" fill="none" />
<path d="M186.8,429.0 C203.7,437.8 269.4,472.6 288.3,482.0 C307.2,491.4 295.8,484.0 300.5,485.5 C305.2,487.0 311.6,490.1 316.3,491.2 C321.0,492.3 325.7,492.6 328.5,492.0 C331.3,491.4 332.0,490.9 332.9,487.7 C333.8,484.5 333.9,476.0 333.8,472.8 C333.7,469.6 332.9,469.4 332.0,468.4 C331.1,467.4 329.1,467.0 328.5,466.7" stroke="#111" stroke-width="1.2" fill="none" />
<path d="M311.6,439.4 L327.7,477.2" stroke="#111" stroke-width="1.2" fill="none" />
<path d="M314.6,438.5 L330.3,473.7" stroke="#111" stroke-width="1.2" fill="none" />
<path d="M317.3,434.1 C317.4,435.0 318.0,438.1 318.1,439.4 C318.2,440.7 317.8,441.6 317.7,442.0" stroke="#111" stroke-width="1.2" fill="none" />
<path d="M316.3,471.0 L323.3,474.5" stroke="#111" stroke-width="1.2" fill="none" />
<path d="M198.1,380.3 C199.1,381.0 201.5,383.4 204.3,384.3 C207.1,385.2 213.1,385.7 214.8,386.0" stroke="#111" stroke-width="1.2" fill="none" />
<path d="M225.3,390.5 L230.5,397.5" stroke="#111" stroke-width="1.2" fill="none" />
<path d="M235.8,406.3 L244.5,410.6" stroke="#111" stroke-width="1.2" fill="none" />
<path d="M256.8,413.3 C258.7,413.7 264.2,415.1 268.0,415.8 C271.8,416.5 277.6,417.3 279.5,417.6" stroke="#111" stroke-width="1.2" fill="none" />
<line x1="241.7" y1="373.8" x2="241.7" y2="390" stroke="#111" stroke-width="1.2"/>
<path d="M322.5,452.5 L342.6,446.4" stroke="#111" stroke-width="1.2" fill="none" />
<path d="M270.0,415.8 L280.5,418.4" stroke="#111" stroke-width="1.2" fill="none" />
<path d="M384.8,1002.0 C384.9,1001.0 385.0,997.8 385.3,996.0 C385.6,994.2 385.7,992.8 386.4,991.1 C387.1,989.4 387.7,987.8 389.5,985.7 C391.3,983.7 394.6,980.6 397.1,978.8 C399.7,977.0 402.2,976.1 404.8,975.0 C407.4,973.9 409.8,973.1 412.5,972.3 C415.2,971.5 419.5,970.7 420.9,970.4" stroke="#111" stroke-width="1.1" fill="none" />
<path d="M420.9,970.4 C421.3,970.5 422.4,970.1 423.2,970.8 C424.0,971.4 424.6,973.5 425.5,974.3 C426.4,975.1 426.5,975.8 428.5,975.8 C430.5,975.8 435.8,974.9 437.7,974.3 C439.6,973.7 439.2,972.8 440.0,972.0 C440.8,971.2 441.9,970.1 442.3,969.7" stroke="#111" stroke-width="1.1" fill="none" />
<path d="M442.3,969.7 C443.6,969.8 446.8,969.8 449.9,970.4 C452.9,971.0 456.9,972.1 460.6,973.5 C464.3,974.9 468.5,976.8 472.1,978.8 C475.7,980.8 479.7,983.5 482.1,985.7 C484.5,987.9 485.7,989.7 486.7,991.9 C487.7,994.1 487.9,997.1 488.2,998.8 C488.5,1000.4 488.5,1001.3 488.6,1001.8" stroke="#111" stroke-width="1.1" fill="none" />
<line x1="384.7" y1="1000" x2="384.7" y2="1056" stroke="#111" stroke-width="1.4"/>
<line x1="488.4" y1="1000" x2="488.4" y2="1059" stroke="#111" stroke-width="1.4"/>
<path d="M420.9,970.4 C420.3,970.9 418.1,972.4 417.1,973.5 C416.1,974.6 415.1,975.8 414.8,977.3 C414.5,978.8 414.9,981.2 415.5,982.7 C416.1,984.2 417.7,985.5 418.6,986.5 C419.5,987.5 420.5,988.1 420.9,988.4" stroke="#111" stroke-width="1.1" fill="none" />
<path d="M426.2,976.2 C425.1,976.6 420.9,977.8 419.4,978.8 C417.9,979.8 417.4,981.0 417.1,981.9 C416.8,982.8 417.7,983.8 417.8,984.2" stroke="#111" stroke-width="1.1" fill="none" />
<path d="M387.2,989.6 C388.9,989.2 394.2,987.8 397.1,987.3 C400.0,986.8 402.2,986.6 404.8,986.9 C407.4,987.1 410.3,988.0 412.5,988.8 C414.7,989.6 416.9,991.4 417.8,991.9" stroke="#111" stroke-width="1.1" fill="none" />
<path d="M386.4,998.8 C387.5,998.1 390.9,995.9 393.3,994.9 C395.7,993.9 398.2,993.0 401.0,992.6 C403.8,992.2 407.4,992.2 410.2,992.3 C413.0,992.4 416.5,993.2 417.8,993.4" stroke="#111" stroke-width="1.1" fill="none" />
<path d="M478.2,987.3 C479.1,987.8 482.2,989.3 483.6,990.3 C485.0,991.3 486.2,992.9 486.7,993.4" stroke="#111" stroke-width="1.1" fill="none" />
<path d="M450.3,1004.9 C451.4,1005.5 454.1,1007.8 456.8,1008.7 C459.6,1009.6 463.6,1010.3 466.8,1010.3 C470.0,1010.3 473.2,1009.5 476.0,1008.7 C478.8,1007.9 481.7,1006.7 483.6,1005.7 C485.5,1004.7 486.8,1003.1 487.4,1002.6" stroke="#111" stroke-width="1.1" fill="none" />
<path d="M445.3,1008.0 C446.3,1008.8 450.0,1011.0 451.4,1012.5 C452.8,1014.0 453.3,1015.6 453.7,1017.1 C454.1,1018.6 454.2,1020.0 453.7,1021.7 C453.2,1023.4 452.3,1025.7 450.5,1027.5 C448.7,1029.3 444.2,1031.7 443.0,1032.5" stroke="#111" stroke-width="1.1" fill="none" />
<path d="M446.5,1007.2 C447.5,1008.0 451.2,1010.2 452.6,1011.8 C454.0,1013.4 454.6,1015.1 455.0,1016.8 C455.4,1018.4 455.0,1020.9 455.0,1021.7" stroke="#111" stroke-width="1.1" fill="none" />
<path d="M385.3,1003.4 C386.2,1003.9 389.1,1005.3 391.0,1006.3 C392.9,1007.3 394.4,1008.0 396.4,1009.5 C398.4,1011.0 400.8,1013.5 403.0,1015.5 C405.2,1017.5 408.3,1020.7 409.4,1021.7" stroke="#111" stroke-width="1.1" fill="none" />
<path d="M413.2,1023.3 C414.2,1024.2 417.6,1027.0 419.4,1028.5 C421.2,1030.0 422.4,1031.6 424.0,1032.5 C425.6,1033.4 428.2,1033.8 429.0,1034.0" stroke="#111" stroke-width="1.1" fill="none" />
<path d="M402.2,1007.5 L452.2,978.8" stroke="#111" stroke-width="1.1" fill="none" />
<path d="M452.2,978.8 C452.2,978.3 452.7,976.7 452.2,975.8 C451.7,974.9 449.6,973.9 449.1,973.5" stroke="#111" stroke-width="1.1" fill="none" />
<path d="M412.9,1019.7 L472.1,985.7" stroke="#111" stroke-width="1.1" fill="none" />
<path d="M456.0,978.1 L473.7,984.6" stroke="#111" stroke-width="1.1" fill="none" />
<path d="M384.8,1009.0 C385.1,1009.7 385.4,1011.5 386.4,1013.0 C387.4,1014.5 389.2,1016.4 391.0,1018.0 C392.8,1019.6 393.9,1020.8 397.1,1022.5 C400.3,1024.2 406.5,1027.0 410.2,1028.5 C413.9,1030.0 416.1,1030.7 419.4,1031.5 C422.7,1032.3 426.3,1033.3 430.0,1033.6 C433.7,1033.9 437.7,1034.0 441.5,1033.4 C445.3,1032.8 449.2,1031.4 453.0,1030.2 C456.8,1029.0 460.7,1027.7 464.5,1026.0 C468.3,1024.3 472.8,1022.0 476.0,1020.0 C479.2,1018.0 481.7,1015.8 483.6,1014.0 C485.5,1012.2 486.6,1011.0 487.4,1009.5 C488.2,1008.0 488.3,1005.8 488.5,1005.0" stroke="#111" stroke-width="1.1" fill="none" />
<path d="M384.8,1012.2 C385.2,1012.9 385.7,1015.0 387.0,1016.6 C388.2,1018.2 390.4,1020.2 392.4,1021.8 C394.5,1023.3 395.9,1024.5 399.2,1026.1 C402.4,1027.8 408.1,1030.2 411.8,1031.5 C415.4,1032.9 417.8,1033.5 421.1,1034.2 C424.4,1035.0 428.1,1035.8 431.8,1036.0 C435.5,1036.2 439.5,1036.1 443.3,1035.4 C447.2,1034.7 451.0,1033.3 454.8,1032.0 C458.7,1030.7 462.6,1029.2 466.3,1027.4 C470.1,1025.6 474.2,1023.4 477.2,1021.4 C480.2,1019.5 482.5,1017.4 484.2,1015.7 C485.9,1014.0 487.0,1011.9 487.6,1011.2" stroke="#111" stroke-width="1.2" fill="none" />
<path d="M384.8,1015.0 C385.2,1015.8 386.0,1018.1 387.5,1019.7 C389.0,1021.4 391.5,1023.5 393.7,1025.0 C395.9,1026.6 397.7,1027.8 401.0,1029.3 C404.2,1030.8 409.5,1033.0 413.1,1034.2 C416.7,1035.4 419.2,1035.9 422.6,1036.6 C426.0,1037.3 429.7,1038.1 433.4,1038.2 C437.2,1038.3 441.1,1037.9 444.9,1037.2 C448.8,1036.4 452.6,1035.0 456.4,1033.6 C460.3,1032.2 464.3,1030.5 467.9,1028.6 C471.6,1026.8 475.5,1024.6 478.3,1022.7 C481.1,1020.8 483.2,1018.8 484.7,1017.1 C486.3,1015.4 487.2,1013.4 487.7,1012.6" stroke="#111" stroke-width="1.5" fill="none" />
<path d="M384.8,1018.0 C385.3,1018.9 386.3,1021.4 388.0,1023.1 C389.7,1024.9 392.6,1027.0 395.1,1028.6 C397.5,1030.2 399.6,1031.3 402.9,1032.7 C406.2,1034.1 411.1,1036.0 414.6,1037.1 C418.2,1038.1 420.7,1038.6 424.2,1039.2 C427.6,1039.7 431.4,1040.5 435.2,1040.4 C438.9,1040.4 442.8,1039.9 446.7,1039.1 C450.5,1038.2 454.3,1036.8 458.2,1035.3 C462.0,1033.8 466.1,1031.8 469.7,1030.0 C473.2,1028.1 476.8,1025.9 479.4,1024.0 C482.0,1022.2 483.9,1020.3 485.3,1018.7 C486.7,1017.0 487.5,1015.0 487.9,1014.2" stroke="#111" stroke-width="1.2" fill="none" />
<path d="M384.8,1020.6 C385.4,1021.5 386.6,1024.2 388.5,1026.0 C390.4,1027.9 393.5,1030.0 396.2,1031.6 C398.9,1033.2 401.3,1034.4 404.6,1035.7 C407.9,1037.0 412.4,1038.6 415.9,1039.5 C419.4,1040.5 422.1,1040.9 425.5,1041.4 C429.0,1041.8 432.9,1042.5 436.7,1042.4 C440.4,1042.3 444.3,1041.7 448.2,1040.7 C452.0,1039.8 455.8,1038.4 459.7,1036.8 C463.5,1035.2 467.7,1033.0 471.2,1031.1 C474.6,1029.2 478.0,1027.1 480.4,1025.2 C482.8,1023.4 484.5,1021.6 485.8,1020.0 C487.1,1018.4 487.7,1016.3 488.0,1015.6" stroke="#111" stroke-width="1.5" fill="none" />
<path d="M384.8,1023.4 C385.5,1024.4 386.9,1027.3 389.0,1029.2 C391.1,1031.1 394.6,1033.3 397.5,1034.9 C400.4,1036.5 403.1,1037.6 406.4,1038.8 C409.7,1040.1 413.8,1041.4 417.3,1042.2 C420.7,1043.0 423.5,1043.3 427.0,1043.7 C430.5,1044.1 434.5,1044.8 438.3,1044.5 C442.1,1044.3 445.9,1043.5 449.8,1042.5 C453.6,1041.4 457.4,1040.0 461.3,1038.3 C465.1,1036.6 469.4,1034.3 472.8,1032.3 C476.1,1030.4 479.2,1028.3 481.5,1026.5 C483.7,1024.7 485.2,1023.1 486.3,1021.5 C487.5,1019.9 487.9,1017.8 488.2,1017.1" stroke="#111" stroke-width="1.2" fill="none" />
<path d="M384.8,1026.2 C385.6,1027.2 387.2,1030.3 389.5,1032.3 C391.8,1034.4 395.6,1036.6 398.7,1038.2 C401.9,1039.8 404.9,1040.9 408.2,1042.0 C411.5,1043.1 415.2,1044.2 418.6,1044.8 C422.0,1045.5 425.0,1045.8 428.5,1046.1 C432.1,1046.4 436.1,1047.0 439.9,1046.7 C443.7,1046.4 447.6,1045.4 451.4,1044.2 C455.2,1043.1 459.1,1041.7 462.9,1039.9 C466.7,1038.1 471.1,1035.6 474.4,1033.6 C477.7,1031.5 480.5,1029.5 482.5,1027.7 C484.6,1026.0 485.9,1024.5 486.9,1022.9 C487.8,1021.4 488.1,1019.3 488.3,1018.5" stroke="#111" stroke-width="1.4" fill="none" />
<path d="M384.8,1029.0 C385.7,1030.1 387.5,1033.4 390.0,1035.5 C392.5,1037.6 396.7,1039.9 400.0,1041.5 C403.3,1043.1 406.7,1044.2 410.0,1045.2 C413.3,1046.2 416.7,1047.0 420.0,1047.5 C423.3,1048.0 426.4,1048.3 430.0,1048.5 C433.6,1048.7 437.7,1049.2 441.5,1048.8 C445.3,1048.4 449.2,1047.2 453.0,1046.0 C456.8,1044.8 460.7,1043.4 464.5,1041.5 C468.3,1039.6 472.8,1036.9 476.0,1034.8 C479.2,1032.7 481.7,1030.7 483.6,1029.0 C485.5,1027.3 486.6,1025.9 487.4,1024.4 C488.2,1022.9 488.3,1020.7 488.5,1020.0" stroke="#111" stroke-width="1.2" fill="none" />
<path d="M384.5,1056.0 C385.1,1056.0 387.0,1055.9 388.0,1056.0 C389.0,1056.1 388.8,1056.0 390.3,1056.7 C391.8,1057.5 394.7,1059.1 397.1,1060.5 C399.5,1061.9 402.6,1063.8 404.8,1065.1 C407.0,1066.4 408.7,1067.0 410.2,1068.2 C411.7,1069.4 412.6,1071.2 414.0,1072.0 C415.4,1072.8 417.5,1072.4 418.6,1072.8 C419.8,1073.2 419.0,1073.1 420.9,1074.3 C422.8,1075.5 428.0,1078.9 430.1,1080.0 C432.2,1081.1 432.2,1080.3 433.3,1081.0 C434.4,1081.7 435.4,1083.2 436.5,1084.2 C437.6,1085.2 437.9,1086.4 439.8,1086.7 C441.7,1087.0 445.2,1086.7 447.9,1086.3 C450.6,1085.9 453.9,1084.4 456.1,1084.2 C458.3,1084.0 459.5,1084.4 461.0,1085.1 C462.5,1085.8 464.2,1087.1 465.1,1088.3 C466.1,1089.5 464.9,1092.4 466.7,1092.4 C468.5,1092.4 473.5,1089.8 475.7,1088.3 C477.9,1086.8 478.6,1086.1 479.8,1083.4 C481.0,1080.7 482.1,1074.7 483.0,1072.0 C483.9,1069.3 484.7,1068.2 485.5,1067.1 C486.3,1066.0 487.4,1066.8 487.9,1065.5 C488.4,1064.2 488.2,1060.1 488.3,1059.0" stroke="#111" stroke-width="1.1" fill="none" />
<path d="M393.3,1040.6 C393.4,1041.6 393.6,1044.8 394.1,1046.8 C394.6,1048.8 395.4,1051.0 396.4,1052.9 C397.4,1054.8 398.4,1056.6 400.2,1058.2 C402.0,1059.8 405.2,1061.9 407.1,1062.8 C409.0,1063.7 410.6,1063.1 411.7,1063.6 C412.8,1064.1 413.4,1065.1 414.0,1065.9 C414.6,1066.7 414.6,1067.4 415.5,1068.2 C416.4,1069.0 418.6,1070.4 419.4,1070.5 C420.2,1070.6 420.2,1070.2 420.5,1069.0 C420.8,1067.8 421.0,1065.8 420.9,1063.6 C420.8,1061.4 420.6,1058.2 420.1,1056.0 C419.6,1053.8 418.2,1051.5 417.8,1050.6" stroke="#111" stroke-width="1.1" fill="none" />
<path d="M397.5,1043.0 C397.7,1044.1 397.9,1047.6 398.7,1049.8 C399.5,1052.0 400.9,1054.2 402.5,1056.0 C404.1,1057.8 406.6,1059.5 408.6,1060.5 C410.7,1061.5 413.5,1062.2 414.8,1062.1 C416.1,1062.0 416.1,1061.1 416.3,1059.8 C416.6,1058.5 416.6,1055.9 416.3,1054.4 C416.1,1052.9 415.1,1051.2 414.8,1050.6" stroke="#111" stroke-width="1.1" fill="none" />
<path d="M401.7,1046.0 C402.2,1047.2 403.4,1050.7 404.8,1052.9 C406.2,1055.1 408.4,1057.7 410.2,1059.0 C412.0,1060.3 414.6,1060.2 415.5,1060.5" stroke="#111" stroke-width="1.6" fill="none" />
<path d="M418.6,1049.8 C419.5,1050.1 421.3,1051.1 424.0,1051.4 C426.7,1051.7 432.2,1051.1 434.7,1051.7 C437.2,1052.3 438.1,1053.7 439.0,1054.9 C439.9,1056.1 439.7,1058.3 439.8,1059.0" stroke="#111" stroke-width="1.1" fill="none" />
<line x1="439.8" y1="1059" x2="439.8" y2="1086.7" stroke="#111" stroke-width="1.1"/>
<path d="M425.5,1053 V1058 M425.5,1061 V1068" stroke="#111" stroke-width="1.1" fill="none" />
</svg>
</body></html>
